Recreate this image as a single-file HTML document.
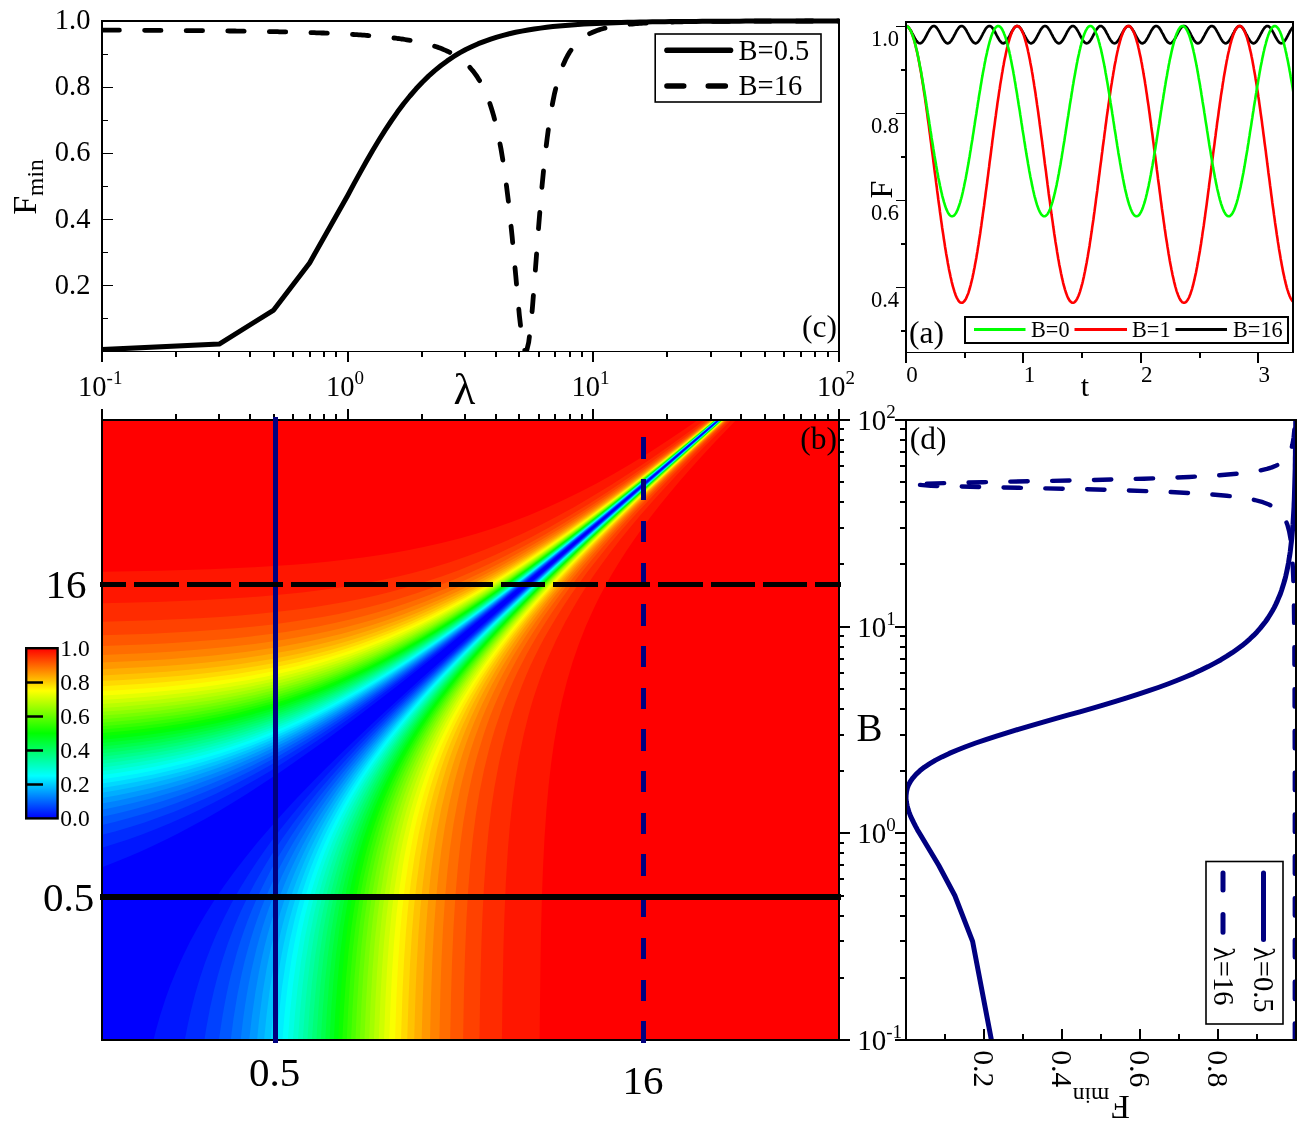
<!DOCTYPE html>
<html lang="en"><head><meta charset="utf-8"><title>Fmin figure</title>
<style>html,body{margin:0;padding:0;background:#fff}svg{display:block}text{font-family:"Liberation Serif", serif;fill:#000}</style></head><body>
<svg width="1312" height="1130" viewBox="0 0 1312 1130">
<rect width="1312" height="1130" fill="#fff"/>
<defs><clipPath id="hc"><rect x="102" y="420" width="737" height="620"/></clipPath></defs>
<g clip-path="url(#hc)">
<rect x="102" y="420" width="737" height="620" fill="#ff0000"/>
<path d="M100 571.8 159.5 570.7 210 569.2 254 567.3 293.5 564.7 312 563.2 329.5 561.5 346.5 559.6 363 557.5 378.5 555.3 394 552.8 409 550.1 423.5 547.1 441.5 543.1 459.5 538.5 477 533.5 494.5 527.9 511.5 521.9 528.5 515.4 545.5 508.3 562.5 500.6 579.5 492.3 596.5 483.4 614 473.7 631.5 463.5 649 452.7 667 441.1 684.5 429.3 706.5 414 841 414 841 414 742 414 741.5 414.4 714.5 442.4 702 455.9 690.5 468.7 679.5 481.3 669.5 493.2 659.5 505.5 650.5 517.1 642 528.4 634 539.7 626.5 550.7 619 562.4 612 574 605.5 585.5 599.5 596.8 594 607.9 586 625.7 579 643.4 572.5 662.3 567 680.9 562 700.8 558 719.8 554 742.8 551 764.3 548.5 786.5 546.5 808.8 544.5 837.8 543 867.5 542 894.3 541 932.2 540.5 959.4 539.5 1046 100 1046Z" fill="#ff1600"/>
<path d="M100 603.2 155.5 601.9 203.5 600 246 597.5 265.5 596 284 594.3 302 592.4 319.5 590.3 336 588 352 585.5 367.5 582.8 383 579.7 398 576.4 412.5 572.9 431 567.9 449 562.4 467 556.3 484.5 549.8 502.5 542.5 520 534.8 537.5 526.4 555.5 517.2 573.5 507.4 592 496.6 611 485 630 472.8 649.5 459.7 670 445.4 691 430.2 712.5 414 841 414 841 414 737.5 414 737 414.2 704.5 446.4 690 461.2 676.5 475.3 664 488.7 652 502 641 514.6 630.5 527 620.5 539.3 611 551.6 602 563.7 594 575.1 586.5 586.3 579 598.1 572 609.9 565.5 621.6 556.5 639.3 548.5 657 544.5 666.7 541 675.8 534.5 694.7 531.5 704.5 528.5 715.2 523.5 735.5 519 757.6 515.5 778.7 512.5 801 510 824.3 508 848.1 506 879.8 504.5 913.4 503.5 945.3 502.5 994.7 502 1035.4 501.5 1046 100 1046Z" fill="#ff2b00"/>
<path d="M100 621.9 153 620.3 199 618.2 220 616.9 240 615.4 259 613.7 277.5 611.8 295 609.7 312 607.4 328.5 604.8 344.5 602 360 599 375 595.7 390 592 404.5 588.1 423 582.6 441.5 576.5 459.5 569.9 477.5 562.6 495.5 554.8 513.5 546.2 531.5 537.1 550 527 569 516 588 504.4 607.5 492 627.5 478.5 648.5 463.9 670 448.3 692 431.9 715 414.2 715.5 414 841 414 841 414 735 414.1 699 448.9 668.5 479.5 655 493.5 642 507.4 630 520.6 619 533.1 608 546.1 598 558.4 588.5 570.6 579.5 582.7 571.5 594.1 563.5 606 556 617.9 549 629.7 544 638.6 539 648.1 534.5 657.1 530 666.6 526 675.7 522 685.4 515 704.3 509 723 503.5 743.2 501 753.7 498.5 765.4 494.5 787 491.5 806.8 488.5 831.5 486 858 484 886.3 482.5 914.9 481.5 940.4 480.5 975.7 479.5 1034.1 479 1046 100 1046Z" fill="#ff4100"/>
<path d="M100 635.4 151 633.7 196 631.3 216.5 629.8 236 628.2 254.5 626.4 272.5 624.4 290 622.1 306.5 619.6 322.5 616.9 338.5 613.9 354 610.6 369 607 383.5 603.3 398 599.1 416.5 593.3 435 586.8 453.5 579.7 471.5 572 489.5 563.8 508 554.6 526.5 544.8 545 534.4 564 523.1 583.5 510.8 603.5 497.6 624.5 483.2 645.5 468.3 667 452.4 687.5 436.9 716.5 414.2 717 414 841 414 841 414 734 414 733.5 414.3 695 450.9 663 482.5 648.5 497.2 635 511.3 622.5 524.8 610.5 538.1 599 551.3 588.5 563.8 578.5 576.3 569 588.6 560 600.9 552 612.5 544.5 623.9 537 636 531.5 645.4 526.5 654.5 517.5 672.1 513 681.7 509 690.9 505 700.7 501.5 709.8 495 728.8 492 738.7 489 749.4 484 769.9 479.5 792.3 476 813.8 473 836.5 470.5 860.5 468 892.4 466.5 918.3 465 954.4 464 989.7 463 1046 100 1046Z" fill="#ff5700"/>
<path d="M100 646.1 150 644.2 172.5 643 193.5 641.6 213.5 640.1 232.5 638.4 251 636.4 268.5 634.3 285.5 631.9 302 629.3 318 626.4 333.5 623.3 349 619.8 364 616 378.5 612 393 607.7 411.5 601.6 430 594.8 448.5 587.4 466.5 579.5 485 570.7 503.5 561.2 522 551.1 541 540.1 560.5 528.2 580.5 515.3 601 501.6 622.5 486.5 644.5 470.6 667 453.7 689 436.8 718 414 841 414 841 414 733 414 694 450.6 659 484.6 643.5 500.2 629.5 514.5 616.5 528.3 604 541.9 592 555.4 581 568.2 570.5 581 561 593 551.5 605.7 543 617.6 535 629.4 527.5 641.2 522 650.3 516.5 659.9 507 677.9 498.5 696 494.5 705.3 490.5 715.3 487 724.8 483.5 735 477.5 754.7 474.5 765.9 472 776.2 467.5 797.5 463.5 820.9 460.5 842.6 458 865.3 455.5 894.8 453.5 927.5 452 962.6 451 996.7 450 1046 100 1046Z" fill="#ff6d00"/>
<path d="M100 655 148.5 652.9 170.5 651.7 191 650.2 210.5 648.6 229.5 646.8 247.5 644.8 265 642.5 282 640 298 637.3 314 634.3 329.5 631 344.5 627.4 359.5 623.5 374 619.4 388.5 614.9 407 608.5 425.5 601.5 444 593.8 462.5 585.5 481 576.4 499.5 566.7 518.5 556.1 538 544.6 558 532.1 578.5 518.7 599.5 504.3 621.5 488.7 644.5 471.8 668 454 693 434.5 718.5 414.1 841 414 841 414 732.5 414 732 414.2 689.5 453.9 654.5 487.6 639 503 624.5 517.7 611 531.8 598.5 545.2 586.5 558.5 575 571.7 564.5 584.2 554.5 596.6 545 609 536 621.3 527.5 633.5 520 645 514 654.6 508.5 664 503.5 672.9 498.5 682.3 494 691.3 489.5 700.9 485.5 709.9 481.5 719.6 474.5 738.4 471 749 468 758.9 462.5 779.4 460 790 457.5 801.9 453.5 824 450 848.3 447.5 870 445 898 443 928.2 441.5 959.7 440.5 988.8 439.5 1031.6 439 1046 100 1046Z" fill="#ff8200"/>
<path d="M100 662.6 147 660.5 168.5 659.2 189 657.6 208.5 655.9 227 654 245 651.9 262 649.6 279 646.9 295 644.1 310.5 641 326 637.6 341 633.9 355.5 630 370 625.7 384.5 621.1 403 614.5 421.5 607.3 440 599.4 458.5 590.9 477 581.6 496 571.5 515.5 560.4 535 548.6 555 535.9 576 522 597.5 507.1 620 490.9 643.5 473.5 667.5 455.1 693 435.1 719 414.2 719.5 414 841 414 841 414 732 414 731.5 414.2 687 455.5 651.5 489.4 621 519.7 607 534.1 594 547.9 581.5 561.5 570 574.5 559 587.4 549 599.6 539 612.4 530 624.5 521.5 636.4 513.5 648.4 502 666.9 496.5 676.4 491.5 685.6 482.5 703.5 478 713.4 474 722.7 470 732.8 466.5 742.2 463 752.4 460 761.9 457 772.2 454 783.4 449 805.1 445 826.1 441.5 848.8 438.5 873.4 436 899.8 434 927.9 432.5 956.2 431 997.2 430 1040.2 429.5 1046 100 1046Z" fill="#ff9800"/>
<path d="M100 669.4 146.5 667.1 167.5 665.7 187.5 664.2 206.5 662.4 225 660.4 242.5 658.2 259.5 655.8 276 653.1 292 650.2 307.5 647 322.5 643.5 337.5 639.7 352 635.7 366.5 631.3 381 626.5 399.5 619.8 418 612.4 436.5 604.3 455 595.6 474 585.9 493 575.6 512.5 564.3 532 552.4 552.5 539.2 573.5 525.1 595.5 509.7 618 493.4 641.5 475.8 666.5 456.6 692.5 436 719.5 414.2 720 414 841 414 841 414 731.5 414 731 414.2 685.5 456.2 649 490.9 617.5 521.9 603.5 536.2 590 550.3 577.5 563.8 565.5 577.2 554 590.5 543.5 603.2 533.5 615.7 524.5 627.6 515.5 640.1 507.5 651.8 501.5 661 495.5 670.8 485 689.1 480 698.6 475.5 707.7 471 717.3 467 726.4 463 736.2 459.5 745.4 456 755.3 452.5 766 449.5 776 446.5 786.9 441.5 807.8 437 830.8 433.5 852.9 431.5 868.1 430 881.2 427.5 907.8 425.5 936.2 424 965 422.5 1006.9 421.5 1046 100 1046Z" fill="#ffae00"/>
<path d="M100 675.5 145.5 673.1 166.5 671.7 186 670.1 205 668.2 223 666.2 240.5 663.9 257 661.4 273 658.7 289 655.7 304.5 652.4 319.5 648.8 334.5 644.9 349 640.7 363.5 636.2 377.5 631.5 396 624.6 414.5 617.1 433 608.8 452 599.7 471 589.9 490 579.4 509.5 567.9 529.5 555.6 550 542.2 571.5 527.7 594 511.8 617 495 641 476.9 666.5 457.1 693 436.1 720 414.1 720.5 414 841 414 841 414 731 414 730.5 414.3 683.5 457.6 646.5 492.5 614.5 523.7 600 538.4 586.5 552.4 573.5 566.3 561.5 579.6 550 592.7 539.5 605.2 529.5 617.6 520 629.9 511 642.1 502.5 654.3 490.5 672.9 485 682 479.5 691.7 474.5 701 469.5 710.8 461 729.1 453.5 747.5 450 757.1 446.5 767.4 440.5 787.3 437.5 798.8 435 809.2 430.5 831 426.5 855 423 882 420.5 906.9 418.5 932.9 416.5 968.8 415.5 993.7 414 1046 100 1046Z" fill="#ffc300"/>
<path d="M100 681.1 123 680 144.5 678.6 165 677.1 184.5 675.4 203 673.6 221 671.4 238 669.1 254.5 666.6 270.5 663.8 286.5 660.6 301.5 657.3 316.5 653.7 331.5 649.7 346 645.4 360.5 640.8 374.5 635.9 393 628.9 411.5 621.2 430 612.9 449 603.6 468 593.6 487 583 506.5 571.4 527 558.6 548 544.8 569.5 530.1 592 514.1 615.5 496.8 640 478.2 666 458 693 436.4 720.5 414 841 414 841 414 730.5 414 682 458.5 644 494.1 611.5 525.7 597 540.3 583 554.7 570 568.5 557.5 582.1 546 595.2 535 608.1 524.5 621 515 633.2 506 645.3 497.5 657.3 491 667 485 676.4 479.5 685.4 474 694.9 469 704 464 713.7 459.5 722.9 455 732.8 451 742.1 447 752.1 443.5 761.6 440 771.8 434 791.5 431 802.7 428.5 813 424 834.3 420 857.7 416.5 883.6 414 907.4 412 931.7 410 964.5 408.5 999.7 407 1046 100 1046Z" fill="#ffd900"/>
<path d="M100 686.3 122.5 685.1 143.5 683.7 163.5 682.2 183 680.4 201.5 678.5 219 676.3 236 673.9 252.5 671.3 268.5 668.4 284 665.3 299 661.9 314 658.1 328.5 654.2 343 649.8 357.5 645.1 371.5 640.1 390 633 408.5 625.2 427 616.7 446 607.3 465 597.2 484.5 586.2 504 574.5 524.5 561.5 545.5 547.6 567 532.8 589.5 516.7 613.5 499 638 480.3 663.5 460.4 688 440.8 721 414 841 414 841 414 730.5 414 730 414.2 680.5 459.4 642 495.4 609 527.3 594 542.3 580 556.6 566.5 570.8 554 584.3 542.5 597.2 531.5 610 521 622.7 511.5 634.8 502 647.4 493.5 659.2 481 677.9 470 696 464.5 705.8 459.5 715.3 455 724.2 450.5 733.8 446.5 742.8 442.5 752.5 438.5 762.9 435 772.8 431.5 783.5 428.5 793.4 423 814.3 418.5 834.7 414.5 856.8 411 881 408 907.6 406 930.5 404 960.7 402.5 992 401 1039.5 400.5 1046 100 1046Z" fill="#ffef00"/>
<path d="M100 691.1 122 689.9 143 688.5 163 686.9 182 685.1 200 683.1 217.5 680.8 234.5 678.4 250.5 675.7 266 672.8 281.5 669.6 296.5 666.2 311.5 662.3 326 658.3 340.5 653.8 355 649 369 643.9 388 636.5 406.5 628.5 425 619.9 444 610.3 463 600.1 482.5 588.9 502.5 576.8 523 563.7 544 549.7 566 534.4 589 517.8 613 499.9 638.5 480.4 665 459.6 692.5 437.5 721 414.1 841 414 841 414 730 414 679 460.4 640 496.7 606.5 529 591.5 543.8 577.5 558 564 572.1 551 586.1 539 599.4 528 612.1 517.5 624.7 507.5 637.2 498 649.7 489.5 661.4 483 670.8 476.5 680.6 470.5 690.1 465 699.3 459.5 709 454.5 718.3 445.5 736.6 441 746.6 437 756.2 433 766.5 429.5 776.2 426 786.7 423 796.5 417.5 817 415 827.6 412.5 839.4 408.5 861.4 405 885.4 402 911.8 400 934.5 398 964.1 396.5 994.8 395 1040.8 394.5 1046 100 1046Z" fill="#faff00"/>
<path d="M100 695.7 122 694.4 142.5 692.9 162 691.3 180.5 689.5 198.5 687.4 215.5 685.2 232.5 682.6 248.5 679.9 264 676.9 279.5 673.6 294.5 670.1 309 666.3 323.5 662.1 338 657.6 352 652.9 366 647.7 385 640.2 403.5 632.1 422 623.4 441 613.7 460.5 603.1 480 591.8 500 579.6 520.5 566.4 542 552 564 536.6 587 519.9 611 502 636 482.8 662.5 461.9 688 441.4 721.5 414 841 414 841 414 730 414 729.5 414.2 677.5 461.5 638 498.1 604 530.7 589 545.5 574.5 560.1 561 574.1 548 588 536 601.2 524.5 614.4 514 626.8 504 639.2 494.5 651.5 485.5 663.8 472.5 682.8 461 701.2 455.5 710.7 450.5 719.8 445.5 729.5 441 738.7 436.5 748.6 432.5 757.9 428.5 768 425 777.5 421.5 787.7 418.5 797.2 415.5 807.5 412.5 818.8 407.5 840.5 405 853.2 403 864.6 399.5 888.2 396.5 914 394 942.4 392 973.2 390.5 1005.5 389 1046 100 1046Z" fill="#e4ff00"/>
<path d="M100 700 121.5 698.7 141.5 697.2 161 695.5 179.5 693.6 197 691.5 214 689.2 230.5 686.7 246.5 683.9 262 680.9 277.5 677.5 292.5 673.8 307 670 321.5 665.7 335.5 661.3 349.5 656.4 363.5 651.2 382.5 643.5 401 635.4 419.5 626.5 438.5 616.8 458 606 477.5 594.7 497.5 582.3 518.5 568.7 540 554.2 562.5 538.4 586 521.2 610.5 502.8 636.5 482.8 664 461 692.5 438 721.5 414.1 841 414 841 414 729.5 414.1 676 462.5 636 499.5 601.5 532.4 572 561.7 558 576.1 545 589.9 533 603.1 521.5 616.1 510.5 629.1 500.5 641.3 491 653.5 482 665.7 469 684.4 463 693.6 457 703.3 451.5 712.7 446 722.6 441 732.1 436.5 741.3 432 751 428 760.2 424 770.1 420 780.7 413.5 800.2 410.5 810.4 407.5 821.5 402.5 842.8 400 855.2 398 866.3 394.5 889.2 391.5 914 389 940.7 387 969.3 385.5 998.2 384 1040.6 383.5 1046 100 1046Z" fill="#ceff00"/>
<path d="M100 704.1 121 702.8 141 701.2 160 699.5 178 697.6 195.5 695.5 212.5 693.1 228.5 690.6 244.5 687.7 260 684.6 275 681.3 290 677.6 304.5 673.6 319 669.3 333 664.8 347 659.9 361 654.6 379.5 647 398.5 638.5 417.5 629.3 436.5 619.5 456 608.6 475.5 597.1 495.5 584.7 516.5 571 538.5 556 561 540.1 584.5 522.9 609.5 504.1 636 483.5 663.5 461.7 692 438.6 721.5 414.2 722 414 841 414 841 414 729.5 414 729 414.3 675 463.2 634.5 500.5 599.5 533.7 569.5 563.4 555.5 577.7 542.5 591.4 530 605 518.5 618 507.5 630.8 497.5 643 487.5 655.7 478.5 667.7 471.5 677.4 465 686.9 459 696.1 453 705.7 447.5 714.9 442 724.7 437 734.1 432.5 743.1 428 752.6 424 761.7 420 771.3 416 781.7 412.5 791.5 409 802.2 406 812.1 403 823 398 843.7 393.5 866.4 391.5 878.3 389.5 891.7 386.5 915.9 384 941.9 382 969.4 380.5 996.8 378.5 1046 100 1046Z" fill="#b8ff00"/>
<path d="M100 708.1 121 706.7 140.5 705.1 159 703.4 177 701.4 194.5 699.2 211 696.8 227 694.2 243 691.3 258.5 688.1 273.5 684.7 288 681 302.5 677 317 672.6 331 668 345 663 359 657.6 377.5 650 396.5 641.4 415.5 632.1 434.5 622.1 454 611.1 473.5 599.5 494 586.7 515 572.9 537 557.8 559.5 541.8 583.5 524.2 608.5 505.2 635 484.6 662.5 462.8 691 439.6 722 414 841 414 841 414 729.5 414 729 414.2 674 463.8 633 501.5 598 534.6 567.5 564.6 553.5 578.8 540 593 527.5 606.5 516 619.3 505 632 494.5 644.7 484.5 657.3 475.5 669.1 462 688.1 455.5 697.9 449.5 707.4 444 716.5 438.5 726.1 433.5 735.4 428.5 745.2 424 754.6 419.5 764.6 415.5 774.2 411.5 784.4 408 794.1 404.5 804.6 401.5 814.4 398.5 825.1 393.5 845.4 389 867.5 385 891.9 382 915.1 379 945.3 377 972.4 375.5 999.5 374 1037.7 373.5 1046 100 1046Z" fill="#a3ff00"/>
<path d="M100 711.9 120.5 710.5 140 708.9 158.5 707.1 176.5 705 193.5 702.8 210 700.4 226 697.7 241.5 694.8 256.5 691.6 271.5 688.1 286 684.4 300.5 680.3 314.5 676 328.5 671.3 342.5 666.3 356.5 660.8 375 653 394 644.4 413 635 432 624.9 451.5 613.9 471.5 601.9 492 589 513 575.1 535 560 558 543.5 582 525.8 607.5 506.4 634.5 485.3 662.5 463 692 439 722 414.1 841 414 841 414 729 414 672.5 464.9 631.5 502.5 596 536 565.5 565.8 551.5 580 538 594 525.5 607.4 513.5 620.7 502.5 633.4 492 645.9 482 658.3 472.5 670.7 459 689.5 452.5 699.1 446.5 708.5 440.5 718.3 435 727.7 430 736.8 425 746.5 420.5 755.7 416 765.5 412 774.8 408 784.8 404.5 794.3 401 804.4 397.5 815.5 394.5 825.8 391.5 837.2 389 847.6 384.5 869.3 380.5 893.2 377.5 915.6 375 939.1 372.5 970.2 370.5 1005.2 369 1044.3 368.5 1046 100 1046Z" fill="#8dff00"/>
<path d="M100 715.7 120 714.2 139.5 712.5 158 710.7 175.5 708.6 192.5 706.3 208.5 703.9 224.5 701.1 240 698.1 255 694.9 270 691.3 284.5 687.5 298.5 683.5 312.5 679.1 326.5 674.4 340.5 669.2 354.5 663.7 373 655.9 392 647.1 411 637.6 430 627.4 449.5 616.3 469.5 604.2 490 591.2 511.5 576.9 534 561.3 557 544.8 581 527 606.5 507.6 633.5 486.4 662 463.6 691.5 439.6 722 414.2 722.5 414 841 414 841 414 729 414 674.5 462.9 630.5 503.1 594.5 536.9 563 567.6 548.5 582.2 535 596.2 522.5 609.6 510.5 622.8 499 635.9 488.5 648.4 478.5 660.7 469 673 455 692.4 448.5 702 442.5 711.2 436.5 721 431 730.4 426 739.4 421 749 416 759.1 411.5 768.9 407.5 778.2 403.5 788.1 400 797.5 396.5 807.6 393 818.6 390 828.8 387 840.1 384.5 850.4 380 871.8 376 895.3 372.5 921.4 370 945.4 367.5 977.3 366 1003.2 364.5 1039.3 364 1046 100 1046Z" fill="#77ff00"/>
<path d="M100 719.3 119.5 717.8 138.5 716.1 156.5 714.3 174 712.2 191 709.8 207 707.3 222.5 704.6 238 701.5 253 698.2 268 694.6 282.5 690.7 296.5 686.6 310.5 682.2 324.5 677.4 338.5 672.2 352 666.8 370.5 658.8 389.5 650 408.5 640.4 428 629.9 447.5 618.7 467.5 606.5 488 593.4 509.5 579.1 532 563.4 555 546.8 579.5 528.6 605.5 508.7 632.5 487.5 661 464.7 689.5 441.4 722.5 414 841 414 841 414 729 414 728.5 414.2 670 466.7 628 505.1 592 538.8 561 568.9 546.5 583.5 533 597.4 520 611.2 508 624.3 496.5 637.3 486 649.7 476 661.9 466.5 674.1 452.5 693.2 440 711.8 434 721.3 428.5 730.5 423 740.3 418 749.6 413.5 758.5 409 768 404.5 778.1 400.5 787.8 396.5 798.2 393 808 389.5 818.7 386.5 828.6 381 849.3 378.5 860.2 376 872.2 372 894.8 368.5 919.7 366 942.1 363.5 971.3 361.5 1003.5 359.5 1046 100 1046Z" fill="#62ff00"/>
<path d="M100 722.8 119.5 721.3 138.5 719.5 156.5 717.6 173.5 715.5 190 713.2 206 710.6 221.5 707.8 237 704.7 252 701.3 266.5 697.7 281 693.7 295 689.6 309 685 322.5 680.3 336.5 675 350 669.6 368.5 661.5 387.5 652.6 406.5 642.9 426 632.3 446 620.7 466 608.4 486.5 595.3 508 580.8 530.5 565.1 554 548.1 578.5 529.7 604.5 509.8 632 488.2 661 464.9 691.5 439.9 722.5 414.1 841 414 841 414 729 414 728.5 414.1 669 467.4 626.5 506.1 590.5 539.7 559 570.2 544.5 584.7 530.5 599.1 517.5 612.8 505.5 625.8 494 638.8 483 651.7 473 663.8 463.5 675.9 449 695.5 442.5 704.9 436 714.7 430 724.2 424.5 733.4 419 743.1 414 752.3 405 770.6 400.5 780.6 396.5 790.2 392.5 800.4 389 810.1 385.5 820.6 382.5 830.4 377 850.8 374.5 861.4 372 873.1 369.5 886.2 367.5 898 364 922.7 361.5 945 359 973.8 357 1005.4 355.5 1038.9 355 1046 100 1046Z" fill="#4cff00"/>
<path d="M100 726.3 119.5 724.7 138 723 155.5 721 172.5 718.8 189 716.4 205 713.8 220.5 710.9 235.5 707.8 250 704.5 264.5 700.8 279 696.8 293 692.6 307 688 320.5 683.2 334.5 677.8 348 672.3 366.5 664.2 385.5 655.1 404.5 645.4 424 634.7 443.5 623.3 464 610.7 485 597.1 506.5 582.6 529 566.7 553 549.3 578 530.5 604 510.5 632 488.4 661 465.1 691.5 440 722.5 414.2 723 414 841 414 841 414 728.5 414 668 468.1 625.5 506.7 589 540.7 557.5 571.1 543 585.5 529 599.8 516 613.4 503.5 626.9 492 639.7 481 652.5 470.5 665.1 461 677.1 446.5 696.5 433.5 715.4 427.5 724.8 421.5 734.6 416 744.1 411 753.3 406 762.9 401.5 772.2 397 782.1 393 791.5 389 801.5 385.5 811 382 821.3 378.5 832.4 373 852.4 368 874.3 365.5 887.1 363.5 898.5 360 922.3 357 948.4 354.5 977.1 352.5 1008.5 351 1041.7 350.5 1046 100 1046Z" fill="#36ff00"/>
<path d="M100 729.8 122.5 727.8 143.5 725.7 164 723.2 183.5 720.4 202.5 717.2 220.5 713.8 238 710 255.5 705.8 272.5 701.2 289 696.2 305.5 690.7 322 684.7 338.5 678.2 354.5 671.4 370.5 664 387 655.9 403.5 647.3 420 638.2 437 628.3 454.5 617.6 472 606.5 490.5 594.2 509.5 581.1 529 567.3 549.5 552.3 571 536.2 593 519.4 616.5 501 640.5 481.8 665.5 461.6 723 414 841 414 841 414 728.5 414 670.5 465.7 625 506.9 587.5 541.7 555.5 572.4 540.5 587.3 526.5 601.5 513.5 615.1 501 628.5 489 641.8 478 654.5 467.5 667.1 458 679 443.5 698.2 436.5 708.1 430 717.7 424 727 418 736.7 412.5 746.2 407 756.1 402 765.7 397.5 774.9 393 784.7 389 794.1 385 804 381.5 813.4 378 823.6 374.5 834.6 371.5 844.9 368.5 856.3 363.5 878.1 361 890.9 359 902.4 355.5 926.2 352.5 952.3 350 981 348 1012.5 346.5 1045.8 346 1046 100 1046Z" fill="#21ff00"/>
<path d="M100 733.2 122.5 731.2 143.5 728.9 163.5 726.4 183 723.5 202 720.3 220 716.8 237.5 712.9 254.5 708.6 271.5 703.9 288 698.9 304.5 693.3 320.5 687.4 337 680.7 353 673.8 369 666.4 385.5 658.2 402 649.5 418.5 640.2 435.5 630.3 453 619.5 470.5 608.3 489 596 508 582.8 528 568.6 549 553.2 570.5 537 593 519.7 617 500.8 642 480.8 667.5 460.1 723 414 841 414 841 414 728.5 414 728 414.3 665.5 470 622.5 508.9 585.5 543.2 553.5 573.8 538.5 588.6 524.5 602.8 511 616.8 498.5 630.1 486.5 643.4 475.5 656 465 668.5 455.5 680.3 440.5 700 433.5 709.8 427 719.3 421 728.4 415 738.1 409.5 747.4 404 757.2 399 766.6 394 776.7 389.5 786.4 385.5 795.5 381.5 805.3 378 814.5 374.5 824.5 371 835.2 368 845.3 365 856.3 360 877.3 355.5 900.5 353.5 912.7 351.5 926.5 348.5 951.6 346 978.8 344 1008 342 1046 100 1046Z" fill="#0bff00"/>
<path d="M100 736.5 122 734.5 143 732.2 163 729.6 182 726.7 200.5 723.5 218.5 719.9 236 715.9 253 711.6 270 706.8 286.5 701.6 303 696 319 690 335 683.4 351.5 676.2 367.5 668.7 384 660.4 400.5 651.6 417 642.3 434 632.2 451.5 621.4 469.5 609.8 488 597.4 507 584.2 527 569.8 548 554.4 569.5 538.1 592.5 520.4 616.5 501.5 642 481 668.5 459.4 695.5 437.1 723 414 841 414 841 414 728.5 414 728 414.2 664.5 470.7 621 510 583.5 544.7 551.5 575.2 522.5 604 509 618 496.5 631.2 484.5 644.4 473.5 656.9 463 669.3 453 681.6 438 701.1 424.5 720.1 418 729.9 412 739.5 406.5 748.6 401 758.3 396 767.6 391 777.5 386.5 786.9 382.5 795.9 378.5 805.5 374.5 815.7 371 825.5 367.5 836 364.5 845.8 361.5 856.4 356.5 876.8 352 898.9 348 923.5 344.5 951.2 342 977.1 340 1004.5 338 1043.1 337.5 1046 100 1046Z" fill="#00ff0b"/>
<path d="M100 739.9 122 737.8 142.5 735.4 162.5 732.8 181.5 729.8 200 726.5 217.5 722.9 235 718.8 252 714.4 268.5 709.7 285 704.4 301.5 698.6 317.5 692.5 333.5 685.9 350 678.6 366 671 382.5 662.6 399 653.7 416 644 433 633.9 450.5 623 468.5 611.2 487 598.8 506 585.5 526 571.1 547 555.6 569 538.9 592 521.1 616 502.1 641.5 481.6 668 460 695.5 437.2 723 414.1 723.5 414 841 414 841 414 728 414.1 663 471.9 619.5 511.1 582 545.7 549.5 576.6 534 591.8 519.5 606.3 506 620.2 493.5 633.4 481.5 646.6 470.5 659 460 671.3 450 683.5 435 702.9 428 712.5 421 722.5 414.5 732.2 408.5 741.7 403 750.8 397.5 760.3 392.5 769.5 387.5 779.3 383 788.6 378.5 798.6 374.5 808.1 370.5 818.3 367 827.9 363.5 838.3 360.5 848 357.5 858.5 354.5 870.1 352 880.8 347.5 903 343.5 927.6 340 955.4 337.5 981.5 335.5 1009.1 333.5 1046 100 1046Z" fill="#00ff21"/>
<path d="M100 743.3 121.5 741.1 142 738.7 161.5 736 180.5 733 199 729.5 216.5 725.9 233.5 721.8 250.5 717.4 267 712.5 283.5 707.2 300 701.3 316 695.1 332 688.4 348 681.2 364 673.5 380.5 665.1 397 656.1 414 646.4 431 636.1 448.5 625.1 466.5 613.4 485 600.8 504 587.5 524 573.1 545 557.5 566.5 541.2 589.5 523.3 613.5 504.4 663 464.3 693 439.4 723 414.2 723.5 414 841 414 841 414 728 414 662.5 472.2 618.5 511.7 580.5 546.7 548 577.5 518 607.1 504.5 620.9 491.5 634.6 479.5 647.6 468 660.5 457.5 672.7 447.5 684.8 432 704.7 425 714.2 418 724.1 411.5 733.8 405.5 743.1 399.5 752.9 394 762.4 388.5 772.4 383.5 782.1 379 791.4 374.5 801.3 370.5 810.7 366.5 820.8 363 830.4 359.5 840.7 353.5 860.6 350.5 872 348 882.5 343.5 904.2 339.5 928.2 336 955 333.5 979.9 331.5 1005.8 329.5 1041.4 329 1046 100 1046Z" fill="#00ff36"/>
<path d="M100 746.6 121 744.5 141.5 742 161 739.2 179.5 736.1 197.5 732.7 215 729 232 724.9 249 720.3 265.5 715.4 282 709.9 298 704.1 314 697.9 330 691.1 346.5 683.6 362.5 675.8 379 667.3 395.5 658.2 412.5 648.4 429.5 638.1 447 627 465 615.2 483.5 602.5 503 588.8 523 574.3 544 558.7 566 541.9 589 524 613.5 504.6 664.5 463.2 723.5 414 841 414 841 414 728 414 727.5 414.3 660.5 473.8 616.5 513.3 578.5 548.2 546 578.9 516 608.4 502.5 622.1 489.5 635.7 477.5 648.7 466 661.5 455 674.2 445 686.2 429.5 705.8 415.5 725 409 734.6 402.5 744.5 396.5 754.2 391 763.6 385.5 773.4 380.5 783 376 792.1 371.5 801.7 367.5 810.9 363.5 820.8 359.5 831.4 356 841.4 350 860.9 347 871.9 344.5 882 342 893.1 339.5 905.4 335.5 928.7 332 954.6 329.5 978.3 327 1009.7 325 1045.3 324.5 1046 100 1046Z" fill="#00ff4c"/>
<path d="M100 750 121 747.8 141 745.2 160.5 742.4 179 739.2 197 735.7 214.5 731.9 231.5 727.6 248 723.1 264.5 718.1 281 712.5 297 706.6 313 700.2 329 693.4 345 686 361 678.1 377.5 669.4 394 660.3 411 650.4 428 640 445.5 628.9 463.5 616.9 482.5 603.9 502 590.1 522 575.5 543.5 559.4 566 542.2 589.5 523.9 614 504.4 640 483.4 666.5 461.7 723.5 414 841 414 841 414 728 414 727.5 414.3 659 475 615 514.4 577 549.2 544 580.3 513.5 610.2 500 623.8 487 637.4 475 650.3 463.5 663 452.5 675.6 442.5 687.5 426.5 707.6 419 717.7 412 727.4 405.5 736.8 399 746.7 393 756.3 387.5 765.6 382 775.4 377 784.8 372 794.8 367.5 804.4 363.5 813.5 359.5 823.2 355.5 833.7 352 843.7 348.5 854.5 345.5 864.6 342.5 875.6 340 885.7 337.5 896.7 335 909 331 932.3 327.5 958.1 325 981.7 322.5 1012.9 320.5 1046 100 1046Z" fill="#00ff62"/>
<path d="M100 753.4 120.5 751.2 140.5 748.5 159.5 745.7 178 742.4 195.5 738.9 213 735 230 730.7 246.5 726.1 263 720.9 279.5 715.3 295.5 709.3 311.5 702.8 327.5 695.8 343.5 688.4 359.5 680.4 376 671.6 392.5 662.4 409 652.7 426.5 642 444 630.7 462 618.7 481 605.6 500.5 591.7 521 576.7 542.5 560.6 565 543.3 588.5 524.9 613.5 505 639.5 484 667 461.4 723.5 414 841 414 841 414 728 414 727.5 414.2 658 475.7 614 515.1 575.5 550.2 542.5 581.2 512 610.9 498 625.1 485 638.5 472.5 651.9 461 664.5 450 677 440 688.8 424 708.8 409.5 728.3 403 737.6 396.5 747.3 390.5 756.8 384.5 766.7 379 776.3 374 785.6 369 795.4 364.5 804.8 360 814.8 356 824.3 352 834.6 348.5 844.3 345 854.8 342 864.6 339 875.3 336 887 333.5 897.8 331 909.8 327 932.3 323.5 957 320.5 984.4 318.5 1008.2 316 1046 100 1046Z" fill="#00ff77"/>
<path d="M100 756.9 120.5 754.5 140 751.9 159 748.9 177 745.7 194.5 742.1 212 738.1 228.5 733.8 245 729.1 261.5 723.8 277.5 718.3 293.5 712.2 309.5 705.6 325.5 698.6 341.5 691 357.5 682.9 374 674.1 390.5 664.8 407.5 654.7 425 643.9 442.5 632.6 460.5 620.5 479.5 607.3 499 593.4 519.5 578.3 541 562.1 564 544.4 588 525.6 613 505.6 639.5 484.1 667 461.5 723.5 414.1 724 414 841 414 841 414 727.5 414.1 656.5 476.9 612.5 516.2 574 551.3 540.5 582.6 510 612.2 496 626.3 483 639.7 470.5 652.9 459 665.5 448 677.9 437.5 690.2 421 710.6 406.5 729.9 399.5 739.8 393 749.5 387 758.8 381 768.6 375.5 778.1 370 788.2 365 797.9 360.5 807.2 356 817.2 352 826.6 348 836.7 344.5 846.3 341 856.6 338 866.2 335 876.7 332 888.2 329.5 898.7 327 910.3 323 932 319.5 955.6 316.5 981.4 314 1009.7 311.5 1046 100 1046Z" fill="#00ff8d"/>
<path d="M100 760.4 120 758 139.5 755.3 158.5 752.2 176.5 748.9 194 745.2 211 741.2 227.5 736.8 244 731.9 260 726.8 276 721.1 292 714.9 308 708.3 324 701.1 340 693.4 356 685.3 372.5 676.3 389 666.9 406 656.8 423.5 645.8 441 634.4 459.5 622 478.5 608.7 498 594.7 518.5 579.6 540 563.3 563 545.6 587 526.7 612.5 506.3 667 461.7 723.5 414.2 724 414 841 414 841 414 727.5 414 654.5 478.5 610.5 517.8 572 552.8 538.5 584 507.5 614 480.5 641.3 468 654.5 456.5 667 445.5 679.3 435 691.5 418.5 711.7 403.5 731.5 396.5 741.3 390 750.8 384 760 378 769.7 372.5 779 367 788.9 362 798.4 357.5 807.5 353 817.2 349 826.3 345 836.1 341 846.7 337.5 856.8 334 867.7 331 877.9 328 889 323 910.5 320.5 923.1 318.5 934.3 315 957.4 312 982.6 309.5 1009.9 307 1046 100 1046Z" fill="#00ffa3"/>
<path d="M100 764 120 761.5 139 758.8 157.5 755.7 175.5 752.2 192.5 748.6 209.5 744.4 226 740 242.5 735 258.5 729.7 274.5 724 290.5 717.7 306.5 710.9 322.5 703.6 338.5 695.9 354.5 687.6 371 678.6 387.5 669.1 404 659.1 421.5 648.1 439 636.7 457 624.4 476 611.1 496 596.7 516.5 581.5 538 565.2 561 547.4 585 528.5 610 508.5 662 465.9 724 414 841 414 841 414 727.5 414 656 477 610 518 570.5 553.8 537 585 506 614.8 478.5 642.5 466 655.5 454 668.5 443 680.7 432.5 692.8 416 712.8 401 732.3 387.5 751.4 381 761.2 375 770.7 369.5 779.9 364 789.5 359 798.8 354 808.7 349.5 818.2 345 828.3 341 838 337 848.3 333.5 858.2 330 868.8 327 878.8 324 889.6 319 910.4 314.5 933.1 312.5 945 310.5 958.5 307.5 982.7 306 997.5 304.5 1015 302.5 1044.7 302 1046 100 1046Z" fill="#00ffb8"/>
<path d="M100 767.7 119.5 765.2 138.5 762.3 157 759.1 174.5 755.7 191.5 751.9 208.5 747.6 225 743.1 241 738.1 257 732.8 273 726.9 289 720.5 304.5 713.8 320.5 706.5 336.5 698.6 352.5 690.2 369 681.1 385.5 671.5 402.5 661.2 420 650.1 437.5 638.5 456 625.9 475 612.5 495 598 515.5 582.8 537.5 566 560.5 548.2 584.5 529.2 610 508.7 664 464.4 724 414 841 414 841 414 727.5 414 727 414.3 651.5 480.8 607.5 520 568 555.7 534.5 586.8 503.5 616.6 476 644.1 463.5 657.1 451.5 669.9 440 682.6 429.5 694.6 412.5 715.1 397.5 734.5 390.5 744 383.5 754.1 377 763.8 371 773.2 365 783.1 359.5 792.8 354.5 802 349.5 811.8 345 821.2 340.5 831.2 336.5 840.8 332.5 851.1 329 860.8 325.5 871.3 322.5 881.1 319.5 891.7 316.5 903.5 314 914.3 309.5 936.9 305.5 962.2 302.5 986.3 300 1012.1 297.5 1046 100 1046Z" fill="#00ffce"/>
<path d="M100 771.5 119.5 768.8 138 766 156 762.8 173.5 759.2 190.5 755.3 207 751.1 223.5 746.4 239.5 741.4 255.5 735.8 271.5 729.8 287.5 723.3 303 716.6 319 709.1 335 701.1 351 692.6 367.5 683.4 384 673.7 401 663.3 418 652.4 436 640.4 454.5 627.7 473.5 614.2 493.5 599.7 514.5 584 536.5 567.2 560 548.9 584.5 529.4 610.5 508.5 666 462.9 724 414 841 414 841 414 727.5 414 727 414.2 649.5 482.5 605.5 521.5 566 557.2 532.5 588.2 501 618.3 473.5 645.7 461 658.6 449 671.4 437.5 684 427 695.9 410 716.1 394.5 735.9 380.5 755.2 374 764.8 367.5 774.8 361.5 784.6 356 794 351 803.1 346 812.7 341 822.9 336.5 832.8 332.5 842.1 328.5 852.2 325 861.6 321.5 871.8 318 882.9 315 893.3 312 904.8 309.5 915.3 305 937.1 301 961.2 297.5 988.3 295 1013.4 292.5 1046 100 1046Z" fill="#00ffe4"/>
<path d="M100 775.4 119 772.7 137.5 769.7 155.5 766.4 172.5 762.8 189.5 758.8 206 754.5 222 749.8 238 744.6 254 739 269.5 733.1 285 726.7 301 719.6 317 712 333 703.9 349 695.3 365.5 686 382 676.2 399 665.7 416.5 654.4 434.5 642.4 453 629.6 472 616 492 601.4 513 585.6 535.5 568.4 559 550 584 530.1 610 509.1 666 463 724 414.1 841 414 841 414 727.5 414 727 414.2 647.5 484.1 604 522.6 564.5 558.2 531 589.1 499.5 619.1 471.5 646.8 458.5 660.1 446.5 672.8 435 685.3 424.5 697.1 407 717.7 391 737.9 377 757 370.5 766.4 364 776.3 358 785.9 352.5 795.2 347 805 342 814.4 337 824.4 332.5 834.1 328.5 843.2 324.5 852.9 317.5 872 314 882.7 311 892.7 305.5 913.5 303 924.4 300.5 936.5 296.5 959.3 293 984.4 290 1012.5 287.5 1044.3 287 1046 100 1046Z" fill="#00fffa"/>
<path d="M100 779.5 119 776.7 137 773.7 154.5 770.3 171.5 766.6 188 762.6 204.5 758.1 220.5 753.3 236.5 748.1 252.5 742.3 268 736.2 283.5 729.7 299.5 722.5 315 715 331 706.8 347 698.1 363.5 688.7 380 678.8 397 668.2 414.5 656.8 432.5 644.6 451 631.8 470.5 617.8 490.5 603.1 511.5 587.2 534 569.9 557.5 551.5 609 510.1 665.5 463.5 724 414.1 724.5 414 841 414 841 414 727 414.1 645.5 485.7 602 524.2 562.5 559.7 528.5 590.9 496.5 621.3 468.5 648.9 443.5 674.7 432 687.1 421.5 698.8 404 719.2 388 739.1 373.5 758.6 367 767.9 360.5 777.7 354.5 787.1 348.5 797 343 806.6 338 815.9 333 825.7 328.5 835 324 845.1 320 854.6 316 864.9 312.5 874.6 309 885.1 306 894.9 300.5 915.2 298 925.8 295.5 937.5 291.5 959.4 288 983.2 286 999.9 284.5 1014.5 282 1045.2 281.5 1046 100 1046Z" fill="#00efff"/>
<path d="M100 783.8 118.5 780.9 136.5 777.8 153.5 774.4 170.5 770.5 187 766.4 203 761.9 219 757 235 751.6 251 745.7 266.5 739.5 282 732.8 297.5 725.7 313 718.1 329 709.7 345 700.9 361.5 691.4 378 681.4 395 670.7 412.5 659.2 430.5 647 449 634 468.5 619.9 489 604.8 510 588.9 532.5 571.5 556.5 552.6 608.5 510.7 665.5 463.6 724 414.2 724.5 414 841 414 841 414 727 414 643 487.7 600 525.7 560.5 561.1 526.5 592.3 494.5 622.5 466 650.4 441 676.1 429.5 688.3 418.5 700.5 400.5 721.2 384 741.6 369.5 760.8 362.5 770.7 356 780.4 350 789.7 344 799.5 338.5 808.9 333.5 818 328.5 827.6 323.5 837.8 319 847.7 315 857.1 311 867.1 307.5 876.6 304 886.8 301 896.3 298 906.6 295 917.9 290 939.7 287.5 952.5 285.5 963.9 282 987.6 279 1013.5 276.5 1042 276 1046 100 1046Z" fill="#00d9ff"/>
<path d="M100 788.3 118.5 785.3 136 782.1 153 778.5 169.5 774.7 186 770.4 202 765.7 218 760.7 233.5 755.3 249 749.4 264.5 743.1 280 736.3 295.5 729 311 721.3 327 712.8 343 703.9 359.5 694.2 376 684.1 393 673.2 410.5 661.6 428.5 649.3 447 636.3 466.5 622.1 487 606.9 508 590.9 530.5 573.5 554.5 554.5 606 513 660.5 468 724.5 414 841 414 841 414 727 414 643 487.6 599 526.3 559 562.1 524.5 593.6 492 624.1 463.5 651.9 438 677.9 415.5 702 397 723.1 380.5 743.2 365.5 762.9 358.5 772.6 352 782.1 345.5 792 339.5 801.6 334 810.9 328.5 820.7 323.5 830.1 318.5 840.2 314 849.8 310 858.9 306 868.7 302.5 877.9 299 887.8 295.5 898.5 292.5 908.6 289.5 919.5 286.5 931.6 284 942.8 281.5 955.2 279.5 966.4 276 989.3 273 1014.1 270 1046 100 1046Z" fill="#00c3ff"/>
<path d="M100 793.1 118 790.1 135 786.8 152 783.1 168.5 779.1 184.5 774.7 200.5 769.9 216 764.9 231.5 759.3 247 753.3 262 747 277.5 740.1 293 732.7 308.5 724.8 324.5 716.2 340.5 707.2 357 697.4 373.5 687.2 390.5 676.2 408 664.5 426 652.1 445 638.6 464.5 624.3 485 609 506.5 592.6 529.5 574.7 553.5 555.7 606 513.2 662.5 466.4 724.5 414 841 414 841 414 727 414 726.5 414.3 595.5 529.2 556 564.4 522 595.4 489.5 625.7 461 653.3 435.5 679.1 412.5 703.5 394 724.4 377 744.8 361.5 764.7 354.5 774.3 347.5 784.3 341 794 335 803.4 329 813.3 323.5 822.9 318.5 832.2 313.5 842 309 851.3 304.5 861.3 300.5 870.9 296.5 881.1 293 890.8 289.5 901.3 286.5 911 283.5 921.6 280.5 933.3 278 944.1 273.5 966.5 269.5 991.6 266.5 1015.4 263.5 1046 100 1046Z" fill="#00aeff"/>
<path d="M100 798.3 117.5 795.2 134.5 791.7 151 787.9 167 783.9 183 779.4 198.5 774.6 214 769.3 229.5 763.6 245 757.4 260 751 275.5 743.9 291 736.3 306.5 728.3 322.5 719.5 338.5 710.3 355 700.4 371.5 690 388.5 678.9 406 667.1 424.5 654.2 443.5 640.6 463 626.2 483.5 610.8 505 594.3 528.5 575.9 553 556.4 606.5 513 665 464.4 724.5 414 841 414 841 414 727 414 726.5 414.3 593 531.1 553.5 566.3 519.5 597.1 487 627.3 458 655.2 432.5 680.7 409.5 704.9 390.5 726 373 746.7 357.5 766.3 350 776.4 343 786.2 336.5 795.7 330 805.7 324 815.4 318.5 824.7 313 834.6 308 844.1 303.5 853.2 299 862.9 295 872.1 291 882 287 892.6 283.5 902.7 280 913.7 277 923.9 274 935.2 271.5 945.5 269 956.8 266.5 969.5 262.5 993.6 259 1020.6 256.5 1045.8 256 1046 100 1046Z" fill="#0098ff"/>
<path d="M100 803.9 117 800.7 134 797 150 793.2 166 788.9 181.5 784.4 197 779.4 212.5 773.9 227.5 768.2 242.5 762 258 755.2 273 748.1 288.5 740.4 304 732.2 319.5 723.5 335.5 714.2 352 704.1 368.5 693.6 385.5 682.4 403 670.4 421.5 657.4 440.5 643.7 460.5 628.9 481 613.4 503 596.4 551.5 558 605.5 514.1 665 464.6 724.5 414.1 841 414 841 414 727 414 726.5 414.2 590.5 533.1 551 568.1 517 598.8 484.5 628.9 455.5 656.5 429.5 682.3 406.5 706.2 387 727.5 369 748.4 353 768.3 338.5 787.7 325.5 806.7 319.5 816.1 313.5 825.9 308 835.5 302.5 845.6 297.5 855.4 293 864.7 288.5 874.7 284.5 884.2 280.5 894.5 277 904.1 273.5 914.6 270.5 924.3 267.5 934.9 264.5 946.6 262 957.3 259.5 969.1 255.5 991.4 252 1015.8 248.5 1046 100 1046Z" fill="#0082ff"/>
<path d="M100 810.2 116.5 806.8 133 803.1 149 799 164.5 794.6 180 789.9 195 784.8 210.5 779.1 225.5 773.2 240.5 766.8 255.5 759.9 270.5 752.7 286 744.7 301.5 736.3 317 727.5 333 717.9 349.5 707.7 366 697 383 685.7 400.5 673.6 419 660.4 438 646.6 458 631.7 479 615.7 501 598.6 550 559.6 605 514.7 665 464.7 724.5 414.2 725 414 841 414 841 414 726.5 414.1 587.5 535.4 548 570.3 514.5 600.5 481.5 630.8 452.5 658.3 426.5 683.8 403 707.9 383 729.4 364.5 750.5 348 770.6 333 790.2 326 800 319.5 809.4 313 819.3 307 828.9 301.5 838.2 296 848 291 857.4 286 867.4 281.5 877.1 277.5 886.2 273.5 896 269.5 906.5 266 916.5 262.5 927.3 259.5 937.5 256.5 948.6 251.5 969.8 249 982.3 247 993.3 245 1005.7 243 1019.9 240 1045.6 239.5 1046 100 1046Z" fill="#006dff"/>
<path d="M100 817.2 116 813.7 132 809.8 147.5 805.6 163 801 178 796.1 193 790.8 208 785 222.5 779.1 237.5 772.4 252.5 765.4 267.5 757.9 282.5 750 298 741.3 313.5 732.3 329.5 722.6 346 712.1 362.5 701.3 380 689.4 397.5 677.2 416 663.9 435.5 649.5 455.5 634.5 498.5 601.2 548.5 561.3 604 515.8 664.5 465.3 724.5 414.2 725 414 841 414 841 414 726.5 414 584 538.1 545 572.5 511.5 602.5 478.5 632.7 449 660.3 423 685.6 399.5 709.3 378.5 731.6 359.5 752.8 342.5 773 327 792.8 313 812.1 306.5 821.7 300 831.7 294 841.5 288.5 851 283.5 860 278.5 869.6 273.5 879.9 269 889.7 265 899.1 261 909.1 257.5 918.6 254 928.8 250.5 939.9 247.5 950.4 244.5 961.8 242 972.4 237.5 994.3 233.5 1018.5 230 1045.7 229.5 1046 100 1046Z" fill="#0057ff"/>
<path d="M100 825.4 115.5 821.7 131 817.6 146 813.2 161 808.5 176 803.3 190.5 797.8 205.5 791.7 220 785.5 234.5 778.8 249.5 771.4 264.5 763.6 279.5 755.4 295 746.5 310.5 737.3 326.5 727.3 342.5 716.9 359 705.9 376.5 693.8 394 681.4 412.5 667.9 432 653.4 452 638.2 496 603.9 546 563.7 602 517.7 660.5 468.8 725 414 841 414 841 414 726.5 414 581 540.4 541.5 575.1 508 604.9 475 634.9 445.5 662.3 419 687.7 395.5 711 373.5 733.9 354 755.2 336 776 320 795.8 305.5 815.2 298.5 825.1 292 834.8 286 844.2 280 854 274.5 863.6 269.5 872.7 264.5 882.4 260 891.7 255.5 901.6 251.5 911 247.5 921.1 244 930.7 240.5 941 237 952.2 231.5 972.4 229 982.8 226.5 994.4 224 1007.4 222 1019 218 1046 100 1046Z" fill="#0041ff"/>
<path d="M100 835.4 115 831.4 130 827 144.5 822.4 159 817.3 173.5 811.9 188 806.1 202 800 216.5 793.4 231 786.3 245.5 778.8 260 771 275 762.5 290 753.6 305.5 744 321.5 733.8 338 722.8 354.5 711.5 372 699.2 390 686.2 409 672.2 449 641.7 493.5 606.7 545.5 564.7 603 517.2 664.5 465.6 725 414 841 414 841 414 726.5 414 726 414.3 590.5 531.8 540.5 575.4 490 620.2 447.5 658.9 426.5 678.6 407.5 696.7 389.5 714.4 373 731.1 357.5 747.2 343 762.9 329.5 778.2 317 792.9 304.5 808.4 293 823.6 282.5 838.3 272.5 853.3 263.5 867.9 255 882.8 247.5 897.3 240.5 912.1 234 927.3 228 943.1 222.5 959.5 218 974.7 214 990.2 210 1008.1 206.5 1026.7 203.5 1045.7 203 1046 100 1046Z" fill="#002bff"/>
<path d="M100 848.3 114 844.1 128 839.4 142 834.4 156 829 170 823.2 184 817.1 198 810.5 212 803.6 226 796.3 240.5 788.3 255 780 269.5 771.4 284.5 762.1 300 752.1 316 741.5 332.5 730.2 349.5 718.2 367 705.6 404 678 444.5 646.7 490 610.5 543.5 566.9 603 517.6 665.5 465 725 414.1 841 414 841 414 726.5 414 726 414.2 577.5 542.6 531 583 480 628 437.5 666.4 416 686.2 396.5 704.6 378 722.5 361 739.3 345 755.6 330.5 770.9 317 785.7 304 800.5 291.5 815.4 279.5 830.4 268.5 845.1 258 859.9 248.5 874.4 239.5 889.1 231.5 903.3 224 917.9 217 932.8 211 947 205 962.8 200 977.7 195.5 992.8 191 1010.2 187.5 1025.9 184 1044.2 183.5 1046 100 1046Z" fill="#0016ff"/>
<path d="M100 867.9 113.5 862.8 126.5 857.6 139.5 852 152.5 846.1 165.5 839.8 178.5 833.3 192 826.1 205.5 818.7 219 810.9 233 802.5 247.5 793.4 262 784.1 277 774.2 292.5 763.6 324.5 740.9 359.5 714.9 397.5 685.7 439.5 652.5 486.5 614.6 542.5 568.5 604.5 516.8 667 463.9 725 414.2 725.5 414 841 414 841 414 726 414 677.5 456 513 597.7 462.5 641.9 420.5 679.3 378.5 717.8 359.5 735.7 342 752.5 325.5 768.8 310.5 784 296.5 798.6 283 813.2 269.5 828.4 257 843.1 245 857.9 234 872.2 224 886.1 214.5 900.1 205.5 914.3 197.5 927.9 190 941.8 183 955.9 176.5 970.4 170.5 985.1 165.5 998.8 160.5 1014.2 156 1030 152 1046 100 1046Z" fill="#0000ff"/>
</g>
<path d="M101 419H840V421H101ZM101 1039H840V1041H101ZM101 409H103V1041H101ZM838 409H840V1041H838ZM101 409H103V420H101ZM101 352H103V362H101ZM839 1039H850V1041H839ZM895 1039H906V1041H895ZM175 414H177V420H175ZM175 352H177V357H175ZM839 977H843.7V979H839ZM900 977H906V979H900ZM218 414H220V420H218ZM218 352H220V357H218ZM839 940H843.7V942H839ZM900 940H906V942H900ZM249 414H251V420H249ZM249 352H251V357H249ZM839 915H843.7V917H839ZM900 915H906V917H900ZM273 414H275V420H273ZM273 352H275V357H273ZM839 895H843.7V897H839ZM900 895H906V897H900ZM292 414H294V420H292ZM292 352H294V357H292ZM839 878H843.7V880H839ZM900 878H906V880H900ZM309 414H311V420H309ZM309 352H311V357H309ZM839 864H843.7V866H839ZM900 864H906V866H900ZM323 414H325V420H323ZM323 352H325V357H323ZM839 852H843.7V854H839ZM900 852H906V854H900ZM335 414H337V420H335ZM335 352H337V357H335ZM839 842H843.7V844H839ZM900 842H906V844H900ZM347 409H349V420H347ZM347 352H349V362H347ZM839 832H850V834H839ZM895 832H906V834H895ZM421 414H423V420H421ZM421 352H423V357H421ZM839 770H843.7V772H839ZM900 770H906V772H900ZM464 414H466V420H464ZM464 352H466V357H464ZM839 734H843.7V736H839ZM900 734H906V736H900ZM495 414H497V420H495ZM495 352H497V357H495ZM839 708H843.7V710H839ZM900 708H906V710H900ZM518 414H520V420H518ZM518 352H520V357H518ZM839 688H843.7V690H839ZM900 688H906V690H900ZM538 414H540V420H538ZM538 352H540V357H538ZM839 672H843.7V674H839ZM900 672H906V674H900ZM554 414H556V420H554ZM554 352H556V357H554ZM839 658H843.7V660H839ZM900 658H906V660H900ZM569 414H571V420H569ZM569 352H571V357H569ZM839 646H843.7V648H839ZM900 646H906V648H900ZM581 414H583V420H581ZM581 352H583V357H581ZM839 635H843.7V637H839ZM900 635H906V637H900ZM592 409H594V420H592ZM592 352H594V362H592ZM839 626H850V628H839ZM895 626H906V628H895ZM666 414H668V420H666ZM666 352H668V357H666ZM839 563H843.7V565H839ZM900 563H906V565H900ZM710 414H712V420H710ZM710 352H712V357H710ZM839 527H843.7V529H839ZM900 527H906V529H900ZM740 414H742V420H740ZM740 352H742V357H740ZM839 501H843.7V503H839ZM900 501H906V503H900ZM764 414H766V420H764ZM764 352H766V357H764ZM839 481H843.7V483H839ZM900 481H906V483H900ZM783 414H785V420H783ZM783 352H785V357H783ZM839 465H843.7V467H839ZM900 465H906V467H900ZM800 414H802V420H800ZM800 352H802V357H800ZM839 451H843.7V453H839ZM900 451H906V453H900ZM814 414H816V420H814ZM814 352H816V357H814ZM839 439H843.7V441H839ZM900 439H906V441H900ZM827 414H829V420H827ZM827 352H829V357H827ZM839 428H843.7V430H839ZM900 428H906V430H900ZM838 409H840V420H838ZM838 352H840V362H838ZM839 419H850V421H839ZM895 419H906V421H895Z" fill="#000" shape-rendering="crispEdges"/>
<path d="M273 417H278V1043H273Z" fill="#000080" shape-rendering="crispEdges"/>
<line x1="643.5" y1="1042.5" x2="643.5" y2="430" stroke="#000080" stroke-width="5" stroke-dasharray="21.3 20.4" shape-rendering="crispEdges"/>
<path d="M100 894H841V900H100Z" fill="#000" shape-rendering="crispEdges"/>
<line x1="100" y1="584.5" x2="841" y2="584.5" stroke="#000" stroke-width="5" stroke-dasharray="44.4 8" stroke-dashoffset="18.2" shape-rendering="crispEdges"/>
<path d="M101 20H840V22H101ZM101 20H103V362H101ZM838 20H840V362H838ZM101 351H840V352H101ZM103 318H108V319H103ZM103 285H113V286H103ZM103 252H108V253H103ZM103 219H113V220H103ZM103 186H108V187H103ZM103 153H113V154H103ZM103 120H108V121H103ZM103 87H113V88H103ZM103 54H108V55H103Z" fill="#000" shape-rendering="crispEdges"/>
<text x="90.4" y="293.6" font-size="28.5" text-anchor="end">0.2</text>
<text x="90.4" y="227.5" font-size="28.5" text-anchor="end">0.4</text>
<text x="90.4" y="161.4" font-size="28.5" text-anchor="end">0.6</text>
<text x="90.4" y="95.3" font-size="28.5" text-anchor="end">0.8</text>
<text x="90.4" y="29.2" font-size="28.5" text-anchor="end">1.0</text>
<defs><clipPath id="cc"><rect x="101" y="18" width="739" height="334"/></clipPath></defs>
<g clip-path="url(#cc)" fill="none" stroke="#000" stroke-width="5" stroke-linejoin="round">
<polyline points="102,349.6 219.2,344.1 273.7,310.1 309.6,262.9 347.7,195.4 353.9,183.9 360.1,172.6 366.3,161.5 372.5,150.7 378.8,140.3 385,130.4 391.2,121 397.4,112.1 403.6,103.8 409.9,96 416.1,88.8 422.3,82.2 428.5,76.1 434.7,70.6 441,65.5 447.2,60.9 453.4,56.7 459.6,52.9 465.8,49.5 472.1,46.5 478.3,43.7 484.5,41.3 490.7,39.1 496.9,37.1 503.2,35.3 509.4,33.7 515.6,32.3 521.8,31.1 528,30 534.2,29 540.5,28.1 546.7,27.3 552.9,26.6 559.1,26 565.3,25.4 571.6,24.9 577.8,24.5 584,24.1 590.2,23.7 596.4,23.4 602.7,23.2 608.9,22.9 615.1,22.7 621.3,22.5 627.5,22.3 633.8,22.2 640,22.1 646.2,21.9 652.4,21.8 658.6,21.7 664.9,21.7 671.1,21.6 677.3,21.5 683.5,21.5 689.7,21.4 696,21.4 702.2,21.3 708.4,21.3 714.6,21.3 720.8,21.2 727.1,21.2 733.3,21.2 739.5,21.2 745.7,21.1 751.9,21.1 758.1,21.1 764.4,21.1 770.6,21.1 776.8,21.1 783,21.1 789.2,21.1 795.5,21.1 801.7,21 807.9,21 814.1,21 820.3,21 826.6,21 832.8,21 839,21"/>
<polyline points="101,30.1 103.8,30.1 105.7,30.1 107.5,30.1 109.4,30.2 111.2,30.2 113.1,30.2 114.9,30.2 116.8,30.2 118.6,30.2 120.5,30.2 122.3,30.2 124.2,30.2 126,30.2 127.9,30.2 129.7,30.2 131.6,30.2 133.4,30.2 135.2,30.3 137.1,30.3 138.9,30.3 140.8,30.3 142.6,30.3 144.5,30.3 146.3,30.3 148.2,30.3 150,30.3 151.9,30.3 153.7,30.3 155.6,30.4 157.4,30.4 159.3,30.4 161.1,30.4 163,30.4 164.8,30.4 166.6,30.4 168.5,30.4 170.3,30.4 172.2,30.5 174,30.5 175.9,30.5 177.7,30.5 179.6,30.5 181.4,30.5 183.3,30.5 185.1,30.5 187,30.6 188.8,30.6 190.7,30.6 192.5,30.6 194.4,30.6 196.2,30.6 198.1,30.6 199.9,30.7 201.7,30.7 203.6,30.7 205.4,30.7 207.3,30.7 209.1,30.7 211,30.8 212.8,30.8 214.7,30.8 216.5,30.8 218.4,30.8 220.2,30.9 222.1,30.9 223.9,30.9 225.8,30.9 227.6,30.9 229.5,31 231.3,31 233.1,31 235,31 236.8,31.1 238.7,31.1 240.5,31.1 242.4,31.1 244.2,31.2 246.1,31.2 247.9,31.2 249.8,31.2 251.6,31.3 253.5,31.3 255.3,31.3 257.2,31.3 259,31.4 260.9,31.4 262.7,31.4 264.5,31.5 266.4,31.5 268.2,31.5 270.1,31.6 271.9,31.6 273.8,31.7 275.6,31.7 277.5,31.7 279.3,31.8 281.2,31.8 283,31.8 284.9,31.9 286.7,31.9 288.6,32 290.4,32 292.3,32.1 294.1,32.1 295.9,32.2 297.8,32.2 299.6,32.3 301.5,32.3 303.3,32.4 305.2,32.4 307,32.5 308.9,32.5 310.7,32.6 312.6,32.7 314.4,32.7 316.3,32.8 318.1,32.8 320,32.9 321.8,33 323.7,33 325.5,33.1 327.3,33.2 329.2,33.3 331,33.3 332.9,33.4 334.7,33.5 336.6,33.6 338.4,33.7 340.3,33.8 342.1,33.9 344,34 345.8,34.1 347.7,34.2 349.5,34.3 351.4,34.4 353.2,34.5 355.1,34.6 356.9,34.7 358.7,34.8 360.6,34.9 362.4,35.1 364.3,35.2 366.1,35.3 368,35.5 369.8,35.6 371.7,35.8 373.5,35.9 375.4,36.1 377.2,36.2 379.1,36.4 380.9,36.6 382.8,36.8 384.6,36.9 386.5,37.1 388.3,37.3 390.2,37.5 392,37.8 393.8,38 395.7,38.2 397.5,38.5 399.4,38.7 401.2,39 403.1,39.2 404.9,39.5 406.8,39.8 408.6,40.1 410.5,40.4 412.3,40.8 414.2,41.1 416,41.5 417.9,41.8 419.7,42.2 421.6,42.6 423.4,43.1 425.2,43.5 427.1,44 428.9,44.5 430.8,45 432.6,45.6 434.5,46.2 436.3,46.8 438.2,47.4 440,48.1 441.9,48.8 443.7,49.6 445.6,50.4 447.4,51.2 449.3,52.1 451.1,53.1 453,54.1 454.8,55.2 456.6,56.3 458.5,57.6 460.3,58.9 462.2,60.3 464,61.8 465.9,63.5 467.7,65.2 469.6,67.1 471.4,69.2 473.3,71.4 475.1,73.9 477,76.5 478.8,79.4 480.7,82.5 482.5,86 484.4,89.7 486.2,93.9 488,98.5 489.9,103.6 491.7,109.3 493.6,115.6 495.4,122.6 497.3,130.4 499.1,139.2 501,149 502.8,159.9 504.7,172.2 506.5,186 508.4,201.2 510.2,218 512.1,236.3 513.9,255.8 515.8,276.1 517.6,296.5 519.4,315.7 521.3,332.2 523.1,344.5 525,350.9 526.8,350.2 528.7,342.3 530.5,327.8 532.4,308 534.2,285 536.1,260.4 537.9,235.8 539.8,212.3 541.6,190.5 543.5,170.9 545.3,153.4 547.2,138 549,124.5 550.8,112.8 552.7,102.5 554.5,93.6 556.4,85.8 558.2,79.1 560.1,73.2 561.9,68 563.8,63.4 565.6,59.4 567.5,55.8 569.3,52.7 571.2,49.9 573,47.4 574.9,45.2 576.7,43.2 578.6,41.4 580.4,39.8 582.3,38.3 584.1,37 585.9,35.8 587.8,34.7 589.6,33.7 591.5,32.8 593.3,32 595.2,31.2 597,30.5 598.9,29.9 600.7,29.3 602.6,28.8 604.4,28.3 606.3,27.8 608.1,27.4 610,27 611.8,26.7 613.7,26.3 615.5,26 617.3,25.7 619.2,25.4 621,25.2 622.9,25 624.7,24.7 626.6,24.5 628.4,24.3 630.3,24.2 632.1,24 634,23.8 635.8,23.7 637.7,23.5 639.5,23.4 641.4,23.3 643.2,23.2 645.1,23.1 646.9,23 648.7,22.9 650.6,22.8 652.4,22.7 654.3,22.6 656.1,22.5 658,22.4 659.8,22.4 661.7,22.3 663.5,22.3 665.4,22.2 667.2,22.1 669.1,22.1 670.9,22 672.8,22 674.6,21.9 676.5,21.9 678.3,21.9 680.1,21.8 682,21.8 683.8,21.7 685.7,21.7 687.5,21.7 689.4,21.7 691.2,21.6 693.1,21.6 694.9,21.6 696.8,21.5 698.6,21.5 700.5,21.5 702.3,21.5 704.2,21.5 706,21.4 707.9,21.4 709.7,21.4 711.5,21.4 713.4,21.4 715.2,21.4 717.1,21.3 718.9,21.3 720.8,21.3 722.6,21.3 724.5,21.3 726.3,21.3 728.2,21.3 730,21.3 731.9,21.2 733.7,21.2 735.6,21.2 737.4,21.2 739.3,21.2 741.1,21.2 742.9,21.2 744.8,21.2 746.6,21.2 748.5,21.2 750.3,21.2 752.2,21.2 754,21.1 755.9,21.1 757.7,21.1 759.6,21.1 761.4,21.1 763.3,21.1 765.1,21.1 767,21.1 768.8,21.1 770.7,21.1 772.5,21.1 774.4,21.1 776.2,21.1 778,21.1 779.9,21.1 781.7,21.1 783.6,21.1 785.4,21.1 787.3,21.1 789.1,21.1 791,21.1 792.8,21.1 794.7,21.1 796.5,21.1 798.4,21.1 800.2,21.1 802.1,21.1 803.9,21.1 805.8,21 807.6,21 809.4,21 811.3,21 813.1,21 815,21 816.8,21 818.7,21 820.5,21 822.4,21 824.2,21 826.1,21 827.9,21 829.8,21 831.6,21 833.5,21 835.3,21 837.2,21 839,21" stroke-dasharray="16.4 25.2" stroke-dashoffset="-2" stroke-width="4.8" stroke-linecap="round"/>
</g>
<rect x="655.2" y="34" width="165.8" height="68" fill="#fff" stroke="#000" stroke-width="1.6"/>
<line x1="667" y1="50.3" x2="730.5" y2="50.3" stroke="#000" stroke-width="5.6" stroke-linecap="round"/>
<path d="M667 86H683.7M708.3 86H725.3" fill="none" stroke="#000" stroke-width="5.6" stroke-linecap="round"/>
<text x="738.6" y="59.6" font-size="28.5">B=0.5</text>
<text x="738.6" y="94.8" font-size="28.5">B=16</text>
<text x="802" y="337" font-size="31.5">(c)</text>
<text x="78.1" y="396" font-size="28.5">10<tspan font-size="19" dy="-12">-1</tspan></text>
<text x="326.1" y="396" font-size="28.5">10<tspan font-size="19" dy="-12">0</tspan></text>
<text x="571.5" y="396" font-size="28.5">10<tspan font-size="19" dy="-12">1</tspan></text>
<text x="817.1" y="396" font-size="28.5">10<tspan font-size="19" dy="-12">2</tspan></text>
<text x="464.5" y="403.5" font-size="45" text-anchor="middle">λ</text>
<text transform="translate(35.8,214.8) rotate(-90)" font-size="34">F<tspan font-size="23.5" dy="7.4">min</tspan></text>
<defs><clipPath id="ac"><rect x="906" y="22" width="387" height="330"/></clipPath></defs>
<g clip-path="url(#ac)" fill="none" stroke-linejoin="round">
<polyline points="906,26 906.6,26.1 907.1,26.3 907.7,26.6 908.2,27.1 908.8,27.7 909.3,28.4 909.9,29.2 910.5,30 911,31 911.6,32 912.1,33.1 912.7,34.1 913.2,35.2 913.8,36.3 914.4,37.4 914.9,38.4 915.5,39.3 916,40.2 916.6,41 917.2,41.7 917.7,42.3 918.3,42.7 918.8,43 919.4,43.2 919.9,43.3 920.5,43.2 921.1,43 921.6,42.7 922.2,42.2 922.7,41.6 923.3,40.9 923.8,40.1 924.4,39.2 925,38.2 925.5,37.2 926.1,36.2 926.6,35.1 927.2,34 927.7,32.9 928.3,31.9 928.9,30.9 929.4,29.9 930,29 930.5,28.3 931.1,27.6 931.6,27 932.2,26.6 932.8,26.2 933.3,26.1 933.9,26 934.4,26.1 935,26.3 935.6,26.7 936.1,27.2 936.7,27.8 937.2,28.5 937.8,29.3 938.3,30.2 938.9,31.1 939.5,32.2 940,33.2 940.6,34.3 941.1,35.4 941.7,36.5 942.2,37.5 942.8,38.5 943.4,39.5 943.9,40.3 944.5,41.1 945,41.8 945.6,42.3 946.1,42.8 946.7,43.1 947.3,43.3 947.8,43.3 948.4,43.2 948.9,43 949.5,42.6 950.1,42.1 950.6,41.5 951.2,40.8 951.7,40 952.3,39.1 952.8,38.1 953.4,37.1 954,36 954.5,34.9 955.1,33.8 955.6,32.8 956.2,31.7 956.7,30.7 957.3,29.8 957.9,28.9 958.4,28.1 959,27.5 959.5,26.9 960.1,26.5 960.6,26.2 961.2,26 961.8,26 962.3,26.1 962.9,26.4 963.4,26.7 964,27.2 964.5,27.8 965.1,28.6 965.7,29.4 966.2,30.3 966.8,31.3 967.3,32.3 967.9,33.4 968.5,34.5 969,35.5 969.6,36.6 970.1,37.7 970.7,38.7 971.2,39.6 971.8,40.4 972.4,41.2 972.9,41.9 973.5,42.4 974,42.8 974.6,43.1 975.1,43.3 975.7,43.3 976.3,43.2 976.8,42.9 977.4,42.5 977.9,42 978.5,41.4 979,40.7 979.6,39.8 980.2,38.9 980.7,38 981.3,36.9 981.8,35.9 982.4,34.8 982.9,33.7 983.5,32.6 984.1,31.6 984.6,30.6 985.2,29.6 985.7,28.8 986.3,28 986.9,27.4 987.4,26.9 988,26.5 988.5,26.2 989.1,26 989.6,26 990.2,26.1 990.8,26.4 991.3,26.8 991.9,27.3 992.4,27.9 993,28.7 993.5,29.5 994.1,30.4 994.7,31.4 995.2,32.5 995.8,33.5 996.3,34.6 996.9,35.7 997.4,36.8 998,37.8 998.6,38.8 999.1,39.7 999.7,40.6 1000.2,41.3 1000.8,41.9 1001.4,42.5 1001.9,42.9 1002.5,43.1 1003,43.3 1003.6,43.3 1004.1,43.1 1004.7,42.9 1005.3,42.5 1005.8,41.9 1006.4,41.3 1006.9,40.6 1007.5,39.7 1008,38.8 1008.6,37.8 1009.2,36.8 1009.7,35.7 1010.3,34.6 1010.8,33.5 1011.4,32.5 1011.9,31.4 1012.5,30.4 1013.1,29.5 1013.6,28.7 1014.2,27.9 1014.7,27.3 1015.3,26.8 1015.8,26.4 1016.4,26.1 1017,26 1017.5,26 1018.1,26.2 1018.6,26.4 1019.2,26.9 1019.8,27.4 1020.3,28 1020.9,28.8 1021.4,29.6 1022,30.6 1022.5,31.6 1023.1,32.6 1023.7,33.7 1024.2,34.8 1024.8,35.9 1025.3,36.9 1025.9,37.9 1026.4,38.9 1027,39.8 1027.6,40.7 1028.1,41.4 1028.7,42 1029.2,42.5 1029.8,42.9 1030.3,43.2 1030.9,43.3 1031.5,43.3 1032,43.1 1032.6,42.8 1033.1,42.4 1033.7,41.9 1034.2,41.2 1034.8,40.4 1035.4,39.6 1035.9,38.7 1036.5,37.7 1037,36.6 1037.6,35.5 1038.2,34.5 1038.7,33.4 1039.3,32.3 1039.8,31.3 1040.4,30.3 1040.9,29.4 1041.5,28.6 1042.1,27.9 1042.6,27.2 1043.2,26.7 1043.7,26.4 1044.3,26.1 1044.8,26 1045.4,26 1046,26.2 1046.5,26.5 1047.1,26.9 1047.6,27.5 1048.2,28.1 1048.7,28.9 1049.3,29.8 1049.9,30.7 1050.4,31.7 1051,32.8 1051.5,33.8 1052.1,34.9 1052.7,36 1053.2,37.1 1053.8,38.1 1054.3,39.1 1054.9,40 1055.4,40.8 1056,41.5 1056.6,42.1 1057.1,42.6 1057.7,43 1058.2,43.2 1058.8,43.3 1059.3,43.3 1059.9,43.1 1060.5,42.8 1061,42.3 1061.6,41.8 1062.1,41.1 1062.7,40.3 1063.2,39.5 1063.8,38.5 1064.4,37.5 1064.9,36.5 1065.5,35.4 1066,34.3 1066.6,33.2 1067.1,32.2 1067.7,31.1 1068.3,30.2 1068.8,29.3 1069.4,28.5 1069.9,27.8 1070.5,27.2 1071.1,26.7 1071.6,26.3 1072.2,26.1 1072.7,26 1073.3,26 1073.8,26.2 1074.4,26.6 1075,27 1075.5,27.6 1076.1,28.2 1076.6,29 1077.2,29.9 1077.7,30.8 1078.3,31.9 1078.9,32.9 1079.4,34 1080,35.1 1080.5,36.2 1081.1,37.2 1081.6,38.2 1082.2,39.2 1082.8,40.1 1083.3,40.9 1083.9,41.6 1084.4,42.2 1085,42.7 1085.5,43 1086.1,43.2 1086.7,43.3 1087.2,43.2 1087.8,43 1088.3,42.7 1088.9,42.3 1089.5,41.7 1090,41 1090.6,40.2 1091.1,39.3 1091.7,38.4 1092.2,37.4 1092.8,36.3 1093.4,35.2 1093.9,34.1 1094.5,33.1 1095,32 1095.6,31 1096.1,30 1096.7,29.2 1097.3,28.4 1097.8,27.7 1098.4,27.1 1098.9,26.6 1099.5,26.3 1100,26.1 1100.6,26 1101.2,26.1 1101.7,26.3 1102.3,26.6 1102.8,27.1 1103.4,27.7 1104,28.4 1104.5,29.1 1105.1,30 1105.6,31 1106.2,32 1106.7,33.1 1107.3,34.1 1107.9,35.2 1108.4,36.3 1109,37.4 1109.5,38.4 1110.1,39.3 1110.6,40.2 1111.2,41 1111.8,41.7 1112.3,42.3 1112.9,42.7 1113.4,43 1114,43.2 1114.5,43.3 1115.1,43.2 1115.7,43 1116.2,42.7 1116.8,42.2 1117.3,41.6 1117.9,40.9 1118.4,40.1 1119,39.2 1119.6,38.2 1120.1,37.2 1120.7,36.2 1121.2,35.1 1121.8,34 1122.4,32.9 1122.9,31.9 1123.5,30.9 1124,29.9 1124.6,29 1125.1,28.3 1125.7,27.6 1126.3,27 1126.8,26.6 1127.4,26.2 1127.9,26.1 1128.5,26 1129,26.1 1129.6,26.3 1130.2,26.7 1130.7,27.1 1131.3,27.8 1131.8,28.5 1132.4,29.3 1132.9,30.2 1133.5,31.1 1134.1,32.2 1134.6,33.2 1135.2,34.3 1135.7,35.4 1136.3,36.5 1136.8,37.5 1137.4,38.5 1138,39.5 1138.5,40.3 1139.1,41.1 1139.6,41.8 1140.2,42.3 1140.8,42.8 1141.3,43.1 1141.9,43.3 1142.4,43.3 1143,43.2 1143.5,43 1144.1,42.6 1144.7,42.1 1145.2,41.5 1145.8,40.8 1146.3,40 1146.9,39.1 1147.4,38.1 1148,37.1 1148.6,36 1149.1,34.9 1149.7,33.8 1150.2,32.8 1150.8,31.7 1151.3,30.7 1151.9,29.8 1152.5,28.9 1153,28.2 1153.6,27.5 1154.1,26.9 1154.7,26.5 1155.3,26.2 1155.8,26 1156.4,26 1156.9,26.1 1157.5,26.4 1158,26.7 1158.6,27.2 1159.2,27.8 1159.7,28.6 1160.3,29.4 1160.8,30.3 1161.4,31.3 1161.9,32.3 1162.5,33.4 1163.1,34.4 1163.6,35.5 1164.2,36.6 1164.7,37.7 1165.3,38.7 1165.8,39.6 1166.4,40.4 1167,41.2 1167.5,41.9 1168.1,42.4 1168.6,42.8 1169.2,43.1 1169.7,43.3 1170.3,43.3 1170.9,43.2 1171.4,42.9 1172,42.5 1172.5,42 1173.1,41.4 1173.7,40.7 1174.2,39.8 1174.8,38.9 1175.3,38 1175.9,36.9 1176.4,35.9 1177,34.8 1177.6,33.7 1178.1,32.6 1178.7,31.6 1179.2,30.6 1179.8,29.7 1180.3,28.8 1180.9,28.1 1181.5,27.4 1182,26.9 1182.6,26.5 1183.1,26.2 1183.7,26 1184.2,26 1184.8,26.1 1185.4,26.4 1185.9,26.8 1186.5,27.3 1187,27.9 1187.6,28.7 1188.1,29.5 1188.7,30.4 1189.3,31.4 1189.8,32.4 1190.4,33.5 1190.9,34.6 1191.5,35.7 1192.1,36.8 1192.6,37.8 1193.2,38.8 1193.7,39.7 1194.3,40.6 1194.8,41.3 1195.4,41.9 1196,42.5 1196.5,42.9 1197.1,43.1 1197.6,43.3 1198.2,43.3 1198.7,43.1 1199.3,42.9 1199.9,42.5 1200.4,42 1201,41.3 1201.5,40.6 1202.1,39.7 1202.6,38.8 1203.2,37.8 1203.8,36.8 1204.3,35.7 1204.9,34.6 1205.4,33.5 1206,32.5 1206.6,31.4 1207.1,30.4 1207.7,29.5 1208.2,28.7 1208.8,28 1209.3,27.3 1209.9,26.8 1210.5,26.4 1211,26.1 1211.6,26 1212.1,26 1212.7,26.2 1213.2,26.4 1213.8,26.9 1214.4,27.4 1214.9,28 1215.5,28.8 1216,29.6 1216.6,30.6 1217.1,31.6 1217.7,32.6 1218.3,33.7 1218.8,34.8 1219.4,35.8 1219.9,36.9 1220.5,37.9 1221,38.9 1221.6,39.8 1222.2,40.7 1222.7,41.4 1223.3,42 1223.8,42.5 1224.4,42.9 1225,43.2 1225.5,43.3 1226.1,43.3 1226.6,43.1 1227.2,42.8 1227.7,42.4 1228.3,41.9 1228.9,41.2 1229.4,40.4 1230,39.6 1230.5,38.7 1231.1,37.7 1231.6,36.6 1232.2,35.6 1232.8,34.5 1233.3,33.4 1233.9,32.3 1234.4,31.3 1235,30.3 1235.5,29.4 1236.1,28.6 1236.7,27.9 1237.2,27.2 1237.8,26.7 1238.3,26.4 1238.9,26.1 1239.4,26 1240,26 1240.6,26.2 1241.1,26.5 1241.7,26.9 1242.2,27.5 1242.8,28.1 1243.4,28.9 1243.9,29.8 1244.5,30.7 1245,31.7 1245.6,32.8 1246.1,33.8 1246.7,34.9 1247.3,36 1247.8,37.1 1248.4,38.1 1248.9,39.1 1249.5,40 1250,40.8 1250.6,41.5 1251.2,42.1 1251.7,42.6 1252.3,43 1252.8,43.2 1253.4,43.3 1253.9,43.3 1254.5,43.1 1255.1,42.8 1255.6,42.3 1256.2,41.8 1256.7,41.1 1257.3,40.3 1257.9,39.5 1258.4,38.5 1259,37.5 1259.5,36.5 1260.1,35.4 1260.6,34.3 1261.2,33.2 1261.8,32.2 1262.3,31.1 1262.9,30.2 1263.4,29.3 1264,28.5 1264.5,27.8 1265.1,27.2 1265.7,26.7 1266.2,26.3 1266.8,26.1 1267.3,26 1267.9,26 1268.4,26.2 1269,26.6 1269.6,27 1270.1,27.6 1270.7,28.2 1271.2,29 1271.8,29.9 1272.3,30.8 1272.9,31.9 1273.5,32.9 1274,34 1274.6,35.1 1275.1,36.2 1275.7,37.2 1276.3,38.2 1276.8,39.2 1277.4,40.1 1277.9,40.9 1278.5,41.6 1279,42.2 1279.6,42.7 1280.2,43 1280.7,43.2 1281.3,43.3 1281.8,43.2 1282.4,43 1282.9,42.7 1283.5,42.3 1284.1,41.7 1284.6,41 1285.2,40.2 1285.7,39.3 1286.3,38.4 1286.8,37.4 1287.4,36.3 1288,35.2 1288.5,34.2 1289.1,33.1 1289.6,32 1290.2,31 1290.7,30 1291.3,29.2 1291.9,28.4 1292.4,27.7 1293,27.1 1293.5,26.6 1294.1,26.3 1294.7,26.1 1295.2,26 1295.8,26.1" stroke="#000" stroke-width="2.7"/>
<polyline points="906,26 906.6,26.1 907.1,26.3 907.7,26.6 908.2,27.1 908.8,27.7 909.3,28.5 909.9,29.4 910.5,30.4 911,31.5 911.6,32.8 912.1,34.2 912.7,35.8 913.2,37.4 913.8,39.2 914.4,41.2 914.9,43.2 915.5,45.4 916,47.7 916.6,50.1 917.2,52.6 917.7,55.2 918.3,57.9 918.8,60.8 919.4,63.7 919.9,66.8 920.5,69.9 921.1,73.1 921.6,76.5 922.2,79.9 922.7,83.4 923.3,86.9 923.8,90.6 924.4,94.3 925,98.1 925.5,102 926.1,105.9 926.6,109.9 927.2,113.9 927.7,118 928.3,122.1 928.9,126.3 929.4,130.5 930,134.7 930.5,139 931.1,143.3 931.6,147.6 932.2,152 932.8,156.3 933.3,160.7 933.9,165 934.4,169.4 935,173.7 935.6,178.1 936.1,182.4 936.7,186.7 937.2,191 937.8,195.3 938.3,199.5 938.9,203.7 939.5,207.9 940,212 940.6,216.1 941.1,220.1 941.7,224.1 942.2,228 942.8,231.8 943.4,235.6 943.9,239.3 944.5,242.9 945,246.5 945.6,249.9 946.1,253.3 946.7,256.6 947.3,259.8 947.8,262.9 948.4,265.9 948.9,268.9 949.5,271.7 950.1,274.4 950.6,277 951.2,279.4 951.7,281.8 952.3,284.1 952.8,286.2 953.4,288.2 954,290.1 954.5,291.9 955.1,293.5 955.6,295 956.2,296.4 956.7,297.6 957.3,298.7 957.9,299.7 958.4,300.6 959,301.3 959.5,301.9 960.1,302.3 960.6,302.6 961.2,302.8 961.8,302.8 962.3,302.7 962.9,302.5 963.4,302.1 964,301.6 964.5,300.9 965.1,300.1 965.7,299.2 966.2,298.1 966.8,296.9 967.3,295.6 967.9,294.2 968.5,292.6 969,290.9 969.6,289 970.1,287.1 970.7,285 971.2,282.8 971.8,280.5 972.4,278 972.9,275.5 973.5,272.8 974,270.1 974.6,267.2 975.1,264.2 975.7,261.2 976.3,258 976.8,254.8 977.4,251.4 977.9,248 978.5,244.5 979,240.9 979.6,237.2 980.2,233.4 980.7,229.6 981.3,225.7 981.8,221.8 982.4,217.8 982.9,213.8 983.5,209.7 984.1,205.5 984.6,201.3 985.2,197.1 985.7,192.9 986.3,188.6 986.9,184.3 987.4,180 988,175.6 988.5,171.3 989.1,166.9 989.6,162.5 990.2,158.2 990.8,153.8 991.3,149.5 991.9,145.2 992.4,140.9 993,136.6 993.5,132.3 994.1,128.1 994.7,123.9 995.2,119.8 995.8,115.7 996.3,111.6 996.9,107.6 997.4,103.6 998,99.8 998.6,95.9 999.1,92.2 999.7,88.5 1000.2,84.9 1000.8,81.4 1001.4,77.9 1001.9,74.6 1002.5,71.3 1003,68.1 1003.6,65 1004.1,62 1004.7,59.1 1005.3,56.4 1005.8,53.7 1006.4,51.1 1006.9,48.7 1007.5,46.4 1008,44.1 1008.6,42 1009.2,40.1 1009.7,38.2 1010.3,36.5 1010.8,34.9 1011.4,33.4 1011.9,32.1 1012.5,30.9 1013.1,29.8 1013.6,28.8 1014.2,28 1014.7,27.3 1015.3,26.8 1015.8,26.4 1016.4,26.1 1017,26 1017.5,26 1018.1,26.2 1018.6,26.5 1019.2,26.9 1019.8,27.4 1020.3,28.1 1020.9,29 1021.4,29.9 1022,31 1022.5,32.2 1023.1,33.6 1023.7,35.1 1024.2,36.7 1024.8,38.5 1025.3,40.3 1025.9,42.3 1026.4,44.4 1027,46.7 1027.6,49 1028.1,51.5 1028.7,54.1 1029.2,56.7 1029.8,59.5 1030.3,62.4 1030.9,65.4 1031.5,68.5 1032,71.7 1032.6,75 1033.1,78.4 1033.7,81.8 1034.2,85.4 1034.8,89 1035.4,92.7 1035.9,96.5 1036.5,100.3 1037,104.2 1037.6,108.1 1038.2,112.2 1038.7,116.2 1039.3,120.3 1039.8,124.5 1040.4,128.7 1040.9,132.9 1041.5,137.2 1042.1,141.5 1042.6,145.8 1043.2,150.1 1043.7,154.4 1044.3,158.8 1044.8,163.2 1045.4,167.5 1046,171.9 1046.5,176.2 1047.1,180.6 1047.6,184.9 1048.2,189.2 1048.7,193.5 1049.3,197.7 1049.9,201.9 1050.4,206.1 1051,210.2 1051.5,214.3 1052.1,218.4 1052.7,222.4 1053.2,226.3 1053.8,230.2 1054.3,234 1054.9,237.7 1055.4,241.4 1056,244.9 1056.6,248.4 1057.1,251.9 1057.7,255.2 1058.2,258.5 1058.8,261.6 1059.3,264.7 1059.9,267.6 1060.5,270.5 1061,273.2 1061.6,275.9 1062.1,278.4 1062.7,280.8 1063.2,283.1 1063.8,285.3 1064.4,287.4 1064.9,289.3 1065.5,291.1 1066,292.8 1066.6,294.4 1067.1,295.8 1067.7,297.1 1068.3,298.3 1068.8,299.3 1069.4,300.2 1069.9,301 1070.5,301.6 1071.1,302.1 1071.6,302.5 1072.2,302.7 1072.7,302.8 1073.3,302.8 1073.8,302.6 1074.4,302.3 1075,301.8 1075.5,301.2 1076.1,300.5 1076.6,299.6 1077.2,298.6 1077.7,297.5 1078.3,296.2 1078.9,294.8 1079.4,293.3 1080,291.6 1080.5,289.8 1081.1,287.9 1081.6,285.9 1082.2,283.8 1082.8,281.5 1083.3,279.1 1083.9,276.6 1084.4,274 1085,271.3 1085.5,268.5 1086.1,265.5 1086.7,262.5 1087.2,259.4 1087.8,256.2 1088.3,252.9 1088.9,249.5 1089.5,246 1090,242.4 1090.6,238.8 1091.1,235.1 1091.7,231.3 1092.2,227.4 1092.8,223.5 1093.4,219.5 1093.9,215.5 1094.5,211.4 1095,207.3 1095.6,203.1 1096.1,198.9 1096.7,194.7 1097.3,190.4 1097.8,186.1 1098.4,181.8 1098.9,177.5 1099.5,173.1 1100,168.8 1100.6,164.4 1101.2,160.1 1101.7,155.7 1102.3,151.4 1102.8,147 1103.4,142.7 1104,138.4 1104.5,134.1 1105.1,129.9 1105.6,125.7 1106.2,121.5 1106.7,117.4 1107.3,113.3 1107.9,109.3 1108.4,105.3 1109,101.4 1109.5,97.6 1110.1,93.8 1110.6,90.1 1111.2,86.4 1111.8,82.9 1112.3,79.4 1112.9,76 1113.4,72.7 1114,69.5 1114.5,66.3 1115.1,63.3 1115.7,60.4 1116.2,57.6 1116.8,54.8 1117.3,52.2 1117.9,49.7 1118.4,47.3 1119,45.1 1119.6,42.9 1120.1,40.9 1120.7,39 1121.2,37.2 1121.8,35.6 1122.4,34 1122.9,32.6 1123.5,31.4 1124,30.2 1124.6,29.2 1125.1,28.4 1125.7,27.6 1126.3,27 1126.8,26.6 1127.4,26.2 1127.9,26.1 1128.5,26 1129,26.1 1129.6,26.3 1130.2,26.7 1130.7,27.2 1131.3,27.8 1131.8,28.6 1132.4,29.5 1132.9,30.5 1133.5,31.7 1134.1,33 1134.6,34.4 1135.2,36 1135.7,37.7 1136.3,39.5 1136.8,41.4 1137.4,43.5 1138,45.7 1138.5,48 1139.1,50.4 1139.6,52.9 1140.2,55.6 1140.8,58.3 1141.3,61.2 1141.9,64.1 1142.4,67.2 1143,70.3 1143.5,73.6 1144.1,76.9 1144.7,80.3 1145.2,83.8 1145.8,87.4 1146.3,91.1 1146.9,94.8 1147.4,98.6 1148,102.5 1148.6,106.4 1149.1,110.4 1149.7,114.5 1150.2,118.5 1150.8,122.7 1151.3,126.9 1151.9,131.1 1152.5,135.3 1153,139.6 1153.6,143.9 1154.1,148.2 1154.7,152.6 1155.3,156.9 1155.8,161.3 1156.4,165.6 1156.9,170 1157.5,174.3 1158,178.7 1158.6,183 1159.2,187.3 1159.7,191.6 1160.3,195.9 1160.8,200.1 1161.4,204.3 1161.9,208.5 1162.5,212.6 1163.1,216.6 1163.6,220.6 1164.2,224.6 1164.7,228.5 1165.3,232.3 1165.8,236.1 1166.4,239.8 1167,243.4 1167.5,246.9 1168.1,250.4 1168.6,253.8 1169.2,257.1 1169.7,260.3 1170.3,263.4 1170.9,266.4 1171.4,269.3 1172,272 1172.5,274.7 1173.1,277.3 1173.7,279.8 1174.2,282.1 1174.8,284.4 1175.3,286.5 1175.9,288.5 1176.4,290.3 1177,292.1 1177.6,293.7 1178.1,295.2 1178.7,296.6 1179.2,297.8 1179.8,298.9 1180.3,299.9 1180.9,300.7 1181.5,301.4 1182,301.9 1182.6,302.4 1183.1,302.6 1183.7,302.8 1184.2,302.8 1184.8,302.7 1185.4,302.4 1185.9,302 1186.5,301.5 1187,300.8 1187.6,300 1188.1,299.1 1188.7,298 1189.3,296.8 1189.8,295.4 1190.4,294 1190.9,292.4 1191.5,290.6 1192.1,288.8 1192.6,286.8 1193.2,284.7 1193.7,282.5 1194.3,280.2 1194.8,277.7 1195.4,275.1 1196,272.5 1196.5,269.7 1197.1,266.8 1197.6,263.8 1198.2,260.7 1198.7,257.6 1199.3,254.3 1199.9,250.9 1200.4,247.5 1201,244 1201.5,240.4 1202.1,236.7 1202.6,232.9 1203.2,229.1 1203.8,225.2 1204.3,221.3 1204.9,217.3 1205.4,213.2 1206,209.1 1206.6,204.9 1207.1,200.8 1207.7,196.5 1208.2,192.3 1208.8,188 1209.3,183.7 1209.9,179.4 1210.5,175 1211,170.7 1211.6,166.3 1212.1,161.9 1212.7,157.6 1213.2,153.2 1213.8,148.9 1214.4,144.6 1214.9,140.3 1215.5,136 1216,131.7 1216.6,127.5 1217.1,123.3 1217.7,119.2 1218.3,115.1 1218.8,111 1219.4,107 1219.9,103.1 1220.5,99.2 1221,95.4 1221.6,91.7 1222.2,88 1222.7,84.4 1223.3,80.9 1223.8,77.4 1224.4,74.1 1225,70.8 1225.5,67.7 1226.1,64.6 1226.6,61.6 1227.2,58.8 1227.7,56 1228.3,53.3 1228.9,50.8 1229.4,48.4 1230,46 1230.5,43.8 1231.1,41.8 1231.6,39.8 1232.2,38 1232.8,36.3 1233.3,34.7 1233.9,33.2 1234.4,31.9 1235,30.7 1235.5,29.6 1236.1,28.7 1236.7,27.9 1237.2,27.3 1237.8,26.7 1238.3,26.4 1238.9,26.1 1239.4,26 1240,26 1240.6,26.2 1241.1,26.5 1241.7,26.9 1242.2,27.5 1242.8,28.2 1243.4,29.1 1243.9,30.1 1244.5,31.2 1245,32.4 1245.6,33.8 1246.1,35.3 1246.7,36.9 1247.3,38.7 1247.8,40.6 1248.4,42.6 1248.9,44.7 1249.5,47 1250,49.4 1250.6,51.8 1251.2,54.4 1251.7,57.1 1252.3,59.9 1252.8,62.8 1253.4,65.9 1253.9,69 1254.5,72.2 1255.1,75.5 1255.6,78.9 1256.2,82.3 1256.7,85.9 1257.3,89.5 1257.9,93.2 1258.4,97 1259,100.8 1259.5,104.7 1260.1,108.7 1260.6,112.7 1261.2,116.8 1261.8,120.9 1262.3,125.1 1262.9,129.3 1263.4,133.5 1264,137.8 1264.5,142 1265.1,146.4 1265.7,150.7 1266.2,155 1266.8,159.4 1267.3,163.8 1267.9,168.1 1268.4,172.5 1269,176.8 1269.6,181.2 1270.1,185.5 1270.7,189.8 1271.2,194 1271.8,198.3 1272.3,202.5 1272.9,206.7 1273.5,210.8 1274,214.9 1274.6,218.9 1275.1,222.9 1275.7,226.8 1276.3,230.7 1276.8,234.5 1277.4,238.2 1277.9,241.9 1278.5,245.4 1279,248.9 1279.6,252.3 1280.2,255.7 1280.7,258.9 1281.3,262 1281.8,265.1 1282.4,268 1282.9,270.9 1283.5,273.6 1284.1,276.2 1284.6,278.7 1285.2,281.1 1285.7,283.4 1286.3,285.6 1286.8,287.6 1287.4,289.6 1288,291.4 1288.5,293 1289.1,294.6 1289.6,296 1290.2,297.3 1290.7,298.4 1291.3,299.5 1291.9,300.3 1292.4,301.1 1293,301.7 1293.5,302.2 1294.1,302.5 1294.7,302.7 1295.2,302.8 1295.8,302.8" stroke="#ff0000" stroke-width="2.6"/>
<polyline points="906,26 906.6,26.1 907.1,26.3 907.7,26.6 908.2,27.1 908.8,27.7 909.3,28.5 909.9,29.3 910.5,30.4 911,31.5 911.6,32.8 912.1,34.2 912.7,35.7 913.2,37.4 913.8,39.1 914.4,41 914.9,43.1 915.5,45.2 916,47.4 916.6,49.7 917.2,52.2 917.7,54.7 918.3,57.4 918.8,60.1 919.4,62.9 919.9,65.8 920.5,68.8 921.1,71.8 921.6,75 922.2,78.2 922.7,81.4 923.3,84.7 923.8,88.1 924.4,91.5 925,95 925.5,98.5 926.1,102 926.6,105.5 927.2,109.1 927.7,112.7 928.3,116.3 928.9,119.9 929.4,123.5 930,127.2 930.5,130.8 931.1,134.3 931.6,137.9 932.2,141.5 932.8,145 933.3,148.5 933.9,151.9 934.4,155.3 935,158.7 935.6,161.9 936.1,165.2 936.7,168.4 937.2,171.5 937.8,174.5 938.3,177.5 938.9,180.3 939.5,183.1 940,185.8 940.6,188.4 941.1,190.9 941.7,193.3 942.2,195.6 942.8,197.8 943.4,199.9 943.9,201.9 944.5,203.7 945,205.5 945.6,207.1 946.1,208.6 946.7,209.9 947.3,211.2 947.8,212.3 948.4,213.3 948.9,214.1 949.5,214.8 950.1,215.4 950.6,215.8 951.2,216.1 951.7,216.3 952.3,216.3 952.8,216.2 953.4,215.9 954,215.6 954.5,215 955.1,214.4 955.6,213.6 956.2,212.7 956.7,211.6 957.3,210.4 957.9,209.1 958.4,207.6 959,206.1 959.5,204.4 960.1,202.6 960.6,200.6 961.2,198.6 961.8,196.4 962.3,194.2 962.9,191.8 963.4,189.3 964,186.8 964.5,184.1 965.1,181.3 965.7,178.5 966.2,175.6 966.8,172.6 967.3,169.5 967.9,166.3 968.5,163.1 969,159.8 969.6,156.5 970.1,153.1 970.7,149.7 971.2,146.2 971.8,142.7 972.4,139.2 972.9,135.6 973.5,132.1 974,128.5 974.6,124.8 975.1,121.2 975.7,117.6 976.3,114 976.8,110.4 977.4,106.8 977.9,103.3 978.5,99.7 979,96.2 979.6,92.7 980.2,89.3 980.7,85.9 981.3,82.6 981.8,79.3 982.4,76.1 982.9,73 983.5,69.9 984.1,66.9 984.6,63.9 985.2,61.1 985.7,58.3 986.3,55.7 986.9,53.1 987.4,50.6 988,48.2 988.5,46 989.1,43.8 989.6,41.8 990.2,39.8 990.8,38 991.3,36.3 991.9,34.7 992.4,33.3 993,32 993.5,30.8 994.1,29.7 994.7,28.8 995.2,28 995.8,27.3 996.3,26.8 996.9,26.4 997.4,26.1 998,26 998.6,26 999.1,26.2 999.7,26.5 1000.2,26.9 1000.8,27.5 1001.4,28.2 1001.9,29 1002.5,30 1003,31.1 1003.6,32.3 1004.1,33.7 1004.7,35.2 1005.3,36.8 1005.8,38.5 1006.4,40.3 1006.9,42.3 1007.5,44.4 1008,46.6 1008.6,48.9 1009.2,51.3 1009.7,53.8 1010.3,56.4 1010.8,59.1 1011.4,61.9 1011.9,64.7 1012.5,67.7 1013.1,70.7 1013.6,73.8 1014.2,77 1014.7,80.2 1015.3,83.5 1015.8,86.9 1016.4,90.3 1017,93.7 1017.5,97.2 1018.1,100.7 1018.6,104.3 1019.2,107.8 1019.8,111.4 1020.3,115 1020.9,118.6 1021.4,122.2 1022,125.9 1022.5,129.5 1023.1,133.1 1023.7,136.6 1024.2,140.2 1024.8,143.7 1025.3,147.2 1025.9,150.7 1026.4,154.1 1027,157.5 1027.6,160.8 1028.1,164 1028.7,167.2 1029.2,170.4 1029.8,173.4 1030.3,176.4 1030.9,179.3 1031.5,182.1 1032,184.9 1032.6,187.5 1033.1,190 1033.7,192.5 1034.2,194.8 1034.8,197.1 1035.4,199.2 1035.9,201.2 1036.5,203.1 1037,204.9 1037.6,206.5 1038.2,208.1 1038.7,209.5 1039.3,210.8 1039.8,211.9 1040.4,212.9 1040.9,213.8 1041.5,214.6 1042.1,215.2 1042.6,215.7 1043.2,216 1043.7,216.2 1044.3,216.3 1044.8,216.2 1045.4,216 1046,215.7 1046.5,215.2 1047.1,214.6 1047.6,213.9 1048.2,213 1048.7,212 1049.3,210.8 1049.9,209.6 1050.4,208.2 1051,206.7 1051.5,205 1052.1,203.2 1052.7,201.3 1053.2,199.3 1053.8,197.2 1054.3,195 1054.9,192.7 1055.4,190.2 1056,187.7 1056.6,185.1 1057.1,182.3 1057.7,179.5 1058.2,176.6 1058.8,173.7 1059.3,170.6 1059.9,167.5 1060.5,164.3 1061,161 1061.6,157.7 1062.1,154.4 1062.7,150.9 1063.2,147.5 1063.8,144 1064.4,140.5 1064.9,136.9 1065.5,133.3 1066,129.7 1066.6,126.1 1067.1,122.5 1067.7,118.9 1068.3,115.3 1068.8,111.7 1069.4,108.1 1069.9,104.5 1070.5,101 1071.1,97.5 1071.6,94 1072.2,90.5 1072.7,87.1 1073.3,83.8 1073.8,80.5 1074.4,77.3 1075,74.1 1075.5,71 1076.1,67.9 1076.6,65 1077.2,62.1 1077.7,59.3 1078.3,56.6 1078.9,54 1079.4,51.5 1080,49.1 1080.5,46.8 1081.1,44.6 1081.6,42.5 1082.2,40.5 1082.8,38.6 1083.3,36.9 1083.9,35.3 1084.4,33.8 1085,32.4 1085.5,31.2 1086.1,30.1 1086.7,29.1 1087.2,28.2 1087.8,27.5 1088.3,26.9 1088.9,26.5 1089.5,26.2 1090,26 1090.6,26 1091.1,26.1 1091.7,26.4 1092.2,26.7 1092.8,27.3 1093.4,27.9 1093.9,28.7 1094.5,29.6 1095,30.7 1095.6,31.9 1096.1,33.2 1096.7,34.6 1097.3,36.2 1097.8,37.9 1098.4,39.7 1098.9,41.6 1099.5,43.6 1100,45.8 1100.6,48 1101.2,50.4 1101.7,52.9 1102.3,55.5 1102.8,58.1 1103.4,60.9 1104,63.7 1104.5,66.6 1105.1,69.6 1105.6,72.7 1106.2,75.9 1106.7,79.1 1107.3,82.3 1107.9,85.7 1108.4,89 1109,92.5 1109.5,95.9 1110.1,99.4 1110.6,103 1111.2,106.5 1111.8,110.1 1112.3,113.7 1112.9,117.3 1113.4,120.9 1114,124.6 1114.5,128.2 1115.1,131.8 1115.7,135.4 1116.2,138.9 1116.8,142.5 1117.3,146 1117.9,149.4 1118.4,152.9 1119,156.3 1119.6,159.6 1120.1,162.9 1120.7,166.1 1121.2,169.2 1121.8,172.3 1122.4,175.3 1122.9,178.3 1123.5,181.1 1124,183.9 1124.6,186.6 1125.1,189.1 1125.7,191.6 1126.3,194 1126.8,196.3 1127.4,198.4 1127.9,200.5 1128.5,202.4 1129,204.2 1129.6,205.9 1130.2,207.5 1130.7,209 1131.3,210.3 1131.8,211.5 1132.4,212.6 1132.9,213.5 1133.5,214.3 1134.1,215 1134.6,215.5 1135.2,215.9 1135.7,216.2 1136.3,216.3 1136.8,216.3 1137.4,216.1 1138,215.8 1138.5,215.4 1139.1,214.9 1139.6,214.2 1140.2,213.3 1140.8,212.4 1141.3,211.3 1141.9,210 1142.4,208.7 1143,207.2 1143.5,205.6 1144.1,203.9 1144.7,202 1145.2,200.1 1145.8,198 1146.3,195.8 1146.9,193.5 1147.4,191.1 1148,188.6 1148.6,186 1149.1,183.3 1149.7,180.5 1150.2,177.7 1150.8,174.7 1151.3,171.7 1151.9,168.6 1152.5,165.4 1153,162.2 1153.6,158.9 1154.1,155.6 1154.7,152.2 1155.3,148.7 1155.8,145.3 1156.4,141.7 1156.9,138.2 1157.5,134.6 1158,131 1158.6,127.4 1159.2,123.8 1159.7,120.2 1160.3,116.6 1160.8,113 1161.4,109.4 1161.9,105.8 1162.5,102.3 1163.1,98.7 1163.6,95.2 1164.2,91.8 1164.7,88.4 1165.3,85 1165.8,81.7 1166.4,78.4 1167,75.2 1167.5,72.1 1168.1,69 1168.6,66 1169.2,63.1 1169.7,60.3 1170.3,57.6 1170.9,54.9 1171.4,52.4 1172,49.9 1172.5,47.6 1173.1,45.3 1173.7,43.2 1174.2,41.2 1174.8,39.3 1175.3,37.5 1175.9,35.8 1176.4,34.3 1177,32.9 1177.6,31.6 1178.1,30.4 1178.7,29.4 1179.2,28.5 1179.8,27.8 1180.3,27.1 1180.9,26.7 1181.5,26.3 1182,26.1 1182.6,26 1183.1,26.1 1183.7,26.3 1184.2,26.6 1184.8,27.1 1185.4,27.7 1185.9,28.4 1186.5,29.3 1187,30.3 1187.6,31.4 1188.1,32.7 1188.7,34.1 1189.3,35.6 1189.8,37.2 1190.4,39 1190.9,40.9 1191.5,42.9 1192.1,45 1192.6,47.2 1193.2,49.6 1193.7,52 1194.3,54.5 1194.8,57.1 1195.4,59.9 1196,62.7 1196.5,65.6 1197.1,68.5 1197.6,71.6 1198.2,74.7 1198.7,77.9 1199.3,81.2 1199.9,84.5 1200.4,87.8 1201,91.2 1201.5,94.7 1202.1,98.2 1202.6,101.7 1203.2,105.3 1203.8,108.8 1204.3,112.4 1204.9,116 1205.4,119.6 1206,123.3 1206.6,126.9 1207.1,130.5 1207.7,134.1 1208.2,137.6 1208.8,141.2 1209.3,144.7 1209.9,148.2 1210.5,151.6 1211,155 1211.6,158.4 1212.1,161.7 1212.7,164.9 1213.2,168.1 1213.8,171.2 1214.4,174.3 1214.9,177.2 1215.5,180.1 1216,182.9 1216.6,185.6 1217.1,188.2 1217.7,190.7 1218.3,193.1 1218.8,195.5 1219.4,197.7 1219.9,199.8 1220.5,201.7 1221,203.6 1221.6,205.3 1222.2,207 1222.7,208.5 1223.3,209.8 1223.8,211.1 1224.4,212.2 1225,213.2 1225.5,214 1226.1,214.8 1226.6,215.3 1227.2,215.8 1227.7,216.1 1228.3,216.3 1228.9,216.3 1229.4,216.2 1230,216 1230.5,215.6 1231.1,215.1 1231.6,214.4 1232.2,213.6 1232.8,212.7 1233.3,211.7 1233.9,210.5 1234.4,209.2 1235,207.8 1235.5,206.2 1236.1,204.5 1236.7,202.7 1237.2,200.8 1237.8,198.8 1238.3,196.6 1238.9,194.4 1239.4,192 1240,189.5 1240.6,187 1241.1,184.3 1241.7,181.6 1242.2,178.7 1242.8,175.8 1243.4,172.8 1243.9,169.7 1244.5,166.6 1245,163.4 1245.6,160.1 1246.1,156.8 1246.7,153.4 1247.3,150 1247.8,146.5 1248.4,143 1248.9,139.5 1249.5,135.9 1250,132.3 1250.6,128.7 1251.2,125.1 1251.7,121.5 1252.3,117.9 1252.8,114.3 1253.4,110.7 1253.9,107.1 1254.5,103.5 1255.1,100 1255.6,96.5 1256.2,93 1256.7,89.6 1257.3,86.2 1257.9,82.9 1258.4,79.6 1259,76.4 1259.5,73.2 1260.1,70.1 1260.6,67.1 1261.2,64.2 1261.8,61.3 1262.3,58.5 1262.9,55.9 1263.4,53.3 1264,50.8 1264.5,48.4 1265.1,46.1 1265.7,44 1266.2,41.9 1266.8,40 1267.3,38.1 1267.9,36.4 1268.4,34.8 1269,33.4 1269.6,32.1 1270.1,30.8 1270.7,29.8 1271.2,28.8 1271.8,28 1272.3,27.3 1272.9,26.8 1273.5,26.4 1274,26.1 1274.6,26 1275.1,26 1275.7,26.2 1276.3,26.5 1276.8,26.9 1277.4,27.4 1277.9,28.1 1278.5,28.9 1279,29.9 1279.6,31 1280.2,32.2 1280.7,33.6 1281.3,35 1281.8,36.6 1282.4,38.4 1282.9,40.2 1283.5,42.2 1284.1,44.2 1284.6,46.4 1285.2,48.7 1285.7,51.1 1286.3,53.6 1286.8,56.2 1287.4,58.9 1288,61.7 1288.5,64.5 1289.1,67.5 1289.6,70.5 1290.2,73.6 1290.7,76.8 1291.3,80 1291.9,83.3 1292.4,86.6 1293,90 1293.5,93.4 1294.1,96.9 1294.7,100.4 1295.2,104 1295.8,107.5" stroke="#00ff00" stroke-width="2.6"/>
</g>
<path d="M905 21H1294V23H905ZM905 21H907V363H905ZM1292 21H1294V353H1292ZM905 352H1294V353H905ZM905 353H907V363H905ZM964 353H966V358H964ZM1022 353H1024V363H1022ZM1081 353H1083V358H1081ZM1140 353H1142V363H1140ZM1199 353H1201V358H1199ZM1257 353H1259V363H1257ZM900.5 330H906V332H900.5ZM896 287H906V288H896ZM900.5 243H906V245H900.5ZM896 200H906V201H896ZM900.5 156H906V158H900.5ZM896 113H906V114H896ZM900.5 69H906V71H900.5ZM896 26H906V27H896Z" fill="#000" shape-rendering="crispEdges"/>
<text x="899" y="307" font-size="22.5" text-anchor="end">0.4</text>
<text x="899" y="220" font-size="22.5" text-anchor="end">0.6</text>
<text x="899" y="133" font-size="22.5" text-anchor="end">0.8</text>
<text x="899" y="46" font-size="22.5" text-anchor="end">1.0</text>
<text x="912" y="382" font-size="23" text-anchor="middle">0</text>
<text x="1029.4" y="382" font-size="23" text-anchor="middle">1</text>
<text x="1146.8" y="382" font-size="23" text-anchor="middle">2</text>
<text x="1264.2" y="382" font-size="23" text-anchor="middle">3</text>
<text x="1085" y="396" font-size="30" text-anchor="middle">t</text>
<text transform="translate(891.8,198.5) rotate(-90)" font-size="32">F</text>
<text x="909" y="343" font-size="31.5">(a)</text>
<rect x="965" y="317" width="323" height="26" fill="#fff" stroke="#000" stroke-width="2"/>
<line x1="974" y1="329.5" x2="1025.5" y2="329.5" stroke="#00ff00" stroke-width="2.8"/>
<text x="1031" y="337" font-size="22.3">B=0</text>
<line x1="1074.5" y1="329.5" x2="1127" y2="329.5" stroke="#ff0000" stroke-width="2.8"/>
<text x="1132" y="337" font-size="22.3">B=1</text>
<line x1="1175.5" y1="329.5" x2="1227" y2="329.5" stroke="#000" stroke-width="2.8"/>
<text x="1233" y="337" font-size="22.3">B=16</text>
<defs><linearGradient id="cb" x1="0" y1="1" x2="0" y2="0"><stop offset="0" stop-color="#0000ff"/><stop offset="0.25" stop-color="#00ffff"/><stop offset="0.5" stop-color="#00ff00"/><stop offset="0.75" stop-color="#ffff00"/><stop offset="1" stop-color="#ff0000"/></linearGradient></defs>
<rect x="26.2" y="648.2" width="31.4" height="170.2" fill="url(#cb)" stroke="#000" stroke-width="2.4"/>
<path d="M27 784.4h16M27 750.4h16M27 716.4h16M27 682.4h16" fill="none" stroke="#000" stroke-width="2.5"/>
<text x="60.3" y="826" font-size="23.5">0.0</text>
<text x="60.3" y="792" font-size="23.5">0.2</text>
<text x="60.3" y="758" font-size="23.5">0.4</text>
<text x="60.3" y="724" font-size="23.5">0.6</text>
<text x="60.3" y="690" font-size="23.5">0.8</text>
<text x="60.3" y="656" font-size="23.5">1.0</text>
<text x="86.4" y="598" font-size="41" text-anchor="end">16</text>
<text x="94.3" y="910.6" font-size="41" text-anchor="end">0.5</text>
<text x="274.5" y="1085.7" font-size="41" text-anchor="middle">0.5</text>
<text x="622.5" y="1094" font-size="41">16</text>
<text x="800.3" y="449.2" font-size="31.5">(b)</text>
<defs><clipPath id="dc"><rect x="905" y="420" width="392" height="620"/></clipPath></defs>
<g clip-path="url(#dc)" fill="none" stroke="#000080" stroke-width="5" stroke-linejoin="round">
<polyline points="991.4,1040 972.6,941.4 954.8,895.5 938.7,865.3 919.5,833.3 917.5,829.9 915.6,826.4 913.8,822.9 912.1,819.4 910.5,816 909.2,812.5 908,809 907.1,805.5 906.4,802.1 906,798.6 906.1,795.1 906.5,791.7 907.3,788.2 908.6,784.7 910.5,781.2 913,777.8 916,774.3 919.8,770.8 924.2,767.3 929.4,763.9 935.2,760.4 941.9,756.9 949.3,753.4 957.4,750 966.2,746.5 975.7,743 985.8,739.6 996.5,736.1 1007.7,732.6 1019.2,729.1 1031.1,725.7 1043.2,722.2 1055.4,718.7 1067.7,715.2 1079.9,711.8 1092,708.3 1103.9,704.8 1115.5,701.3 1126.8,697.9 1137.7,694.4 1148.2,690.9 1158.2,687.5 1167.8,684 1176.8,680.5 1185.4,677 1193.5,673.6 1201.1,670.1 1208.2,666.6 1214.8,663.1 1221,659.7 1226.8,656.2 1232.2,652.7 1237.1,649.2 1241.8,645.8 1246,642.3 1250,638.8 1253.6,635.4 1257,631.9 1260.1,628.4 1262.9,624.9 1265.6,621.5 1268,618 1270.2,614.5 1272.3,611 1274.2,607.6 1275.9,604.1 1277.5,600.6 1279,597.1 1280.4,593.7 1281.6,590.2 1282.7,586.7 1283.8,583.2 1284.8,579.8 1285.7,576.3 1286.5,572.8 1287.2,569.4 1287.9,565.9 1288.6,562.4 1289.1,558.9 1289.7,555.5 1290.2,552 1290.6,548.5 1291,545 1291.4,541.6 1291.8,538.1 1292.1,534.6 1292.4,531.1 1292.7,527.7 1293,524.2 1293.2,520.7 1293.4,517.3 1293.6,513.8 1293.8,510.3 1294,506.8 1294.1,503.4 1294.3,499.9 1294.4,496.4 1294.5,492.9 1294.6,489.5 1294.7,486 1294.8,482.5 1294.9,479 1295,475.6 1295.1,472.1 1295.2,468.6 1295.2,465.2 1295.3,461.7 1295.3,458.2 1295.4,454.7 1295.4,451.3 1295.5,447.8 1295.5,444.3 1295.5,440.8 1295.6,437.4 1295.6,433.9 1295.6,430.4 1295.7,426.9 1295.7,423.5 1295.7,420"/>
<polyline points="1294.8,1040 1294.8,941.4 1294.8,895.5 1294.8,865.3 1294.8,833.3 1294.8,771.1 1294.7,734.7 1294.6,708.9 1294.6,688.9 1294.5,672.5 1294.4,658.7 1294.4,646.7 1294.3,636.1 1294.2,626.7 1294.1,618.1 1294,610.3 1293.9,603.1 1293.7,596.5 1293.6,590.3 1293.5,584.5 1293.3,579 1293.1,573.9 1292.9,569.1 1292.7,564.5 1292.5,560.1 1292.2,555.9 1291.9,551.9 1291.6,548.1 1291.2,544.4 1290.8,540.9 1290.3,537.5 1289.7,534.3 1289.1,531.1 1288.3,528.1 1287.5,525.1 1286.4,522.3 1285.2,519.5 1283.7,516.8 1282,514.2 1279.8,511.7 1277,509.2 1273.5,506.8 1268.9,504.5 1262.9,502.2 1254.7,500 1243.3,497.9 1226.7,495.7 1201.9,493.7 1163.6,491.7 1104.3,489.7 1019.1,487.8 930.9,485.9 911.2,484 982.7,482.2 1074.6,480.4 1143.9,478.7 1189.2,477 1218.4,475.3 1237.7,473.7 1250.8,472 1260.1,470.5 1266.9,468.9 1271.9,467.4 1275.8,465.8 1278.8,464.4 1281.2,462.9 1283.1,461.5 1284.7,460.1 1286,458.7 1287.1,457.3 1288,455.9 1288.8,454.6 1289.5,453.3 1290.1,452 1290.6,450.7 1291,449.5 1291.4,448.2 1291.8,447 1292.1,445.8 1292.4,444.6 1292.6,443.5 1292.8,442.3 1293.1,441.2 1293.2,440 1293.4,438.9 1293.6,437.8 1293.7,436.7 1293.8,435.6 1293.9,434.6 1294,433.5 1294.1,432.5 1294.2,431.5 1294.3,430.5 1294.4,429.5 1294.5,428.5 1294.5,427.5 1294.6,426.5 1294.7,425.6 1294.7,424.6 1294.8,423.7 1294.8,422.7 1294.9,421.8 1294.9,420.9 1295,420" stroke-dasharray="17.4 24.4" stroke-dashoffset="0.9" stroke-linecap="round" stroke-width="4.4"/>
</g>
<path d="M905 419H1297V421H905ZM905 1039H1297V1041H905ZM905 419H907V1041H905ZM1295 419H1297V1041H1295ZM944 1034H946V1040H944ZM983 1029H985V1040H983ZM1022 1034H1024V1040H1022ZM1061 1029H1063V1040H1061ZM1100 1034H1102V1040H1100ZM1139 1029H1141V1040H1139ZM1178 1034H1180V1040H1178ZM1217 1029H1219V1040H1217ZM1256 1034H1258V1040H1256Z" fill="#000" shape-rendering="crispEdges"/>
<text transform="translate(973.7,1050.3) rotate(90)" font-size="29.5">0.2</text>
<text transform="translate(1051.7,1050.3) rotate(90)" font-size="29.5">0.4</text>
<text transform="translate(1129.7,1050.3) rotate(90)" font-size="29.5">0.6</text>
<text transform="translate(1207.7,1050.3) rotate(90)" font-size="29.5">0.8</text>
<text transform="translate(1130,1095.5) rotate(180)" font-size="34">F<tspan font-size="23.5" dy="7.4" dx="1.8">min</tspan></text>
<text x="857.2" y="429.8" font-size="29">10<tspan font-size="19" dy="-11.5">2</tspan></text>
<text x="857.2" y="636.8" font-size="29">10<tspan font-size="19" dy="-11.5">1</tspan></text>
<text x="857.2" y="842.8" font-size="29">10<tspan font-size="19" dy="-11.5">0</tspan></text>
<text x="857.2" y="1049.8" font-size="29">10<tspan font-size="19" dy="-11.5">-1</tspan></text>
<text x="856.5" y="740.7" font-size="39">B</text>
<text x="909.8" y="449.2" font-size="31.5">(d)</text>
<rect x="1206" y="861.5" width="77" height="162.5" fill="#fff" stroke="#000" stroke-width="1.6"/>
<line x1="1263.5" y1="873" x2="1263.5" y2="939.5" stroke="#000080" stroke-width="5" stroke-linecap="round"/>
<path d="M1223 873V890M1223 914.5V932.3" fill="none" stroke="#000080" stroke-width="5" stroke-linecap="round"/>
<text transform="translate(1254,947) rotate(90)" font-size="28.5">λ=0.5</text>
<text transform="translate(1213.5,947) rotate(90)" font-size="28.5">λ=16</text>
</svg></body></html>
